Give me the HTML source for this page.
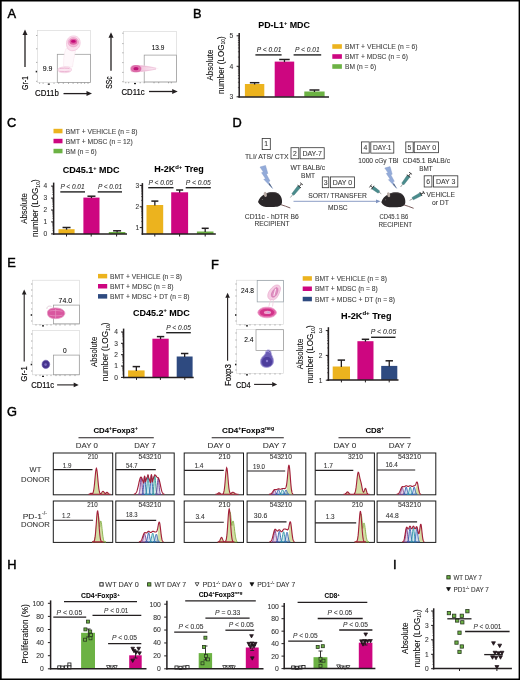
<!DOCTYPE html>
<html><head><meta charset="utf-8"><style>
html,body{margin:0;padding:0;background:#fff;width:520px;height:680px;overflow:hidden}
svg{display:block;font-family:"Liberation Sans", sans-serif;filter:blur(0.35px)}
text:not([stroke]){stroke:#333;stroke-width:0.08px}
svg.bd{position:absolute;left:0;top:0;filter:none}
body{position:relative}
</style></head><body>
<svg width="520" height="680" viewBox="0 0 520 680">
<rect x="0" y="0" width="520" height="680" fill="#fff"/>
<text x="7.5" y="17.7" font-size="12.8" stroke="#000" stroke-width="0.45" fill="#000">A</text>
<rect x="37.3" y="30.3" width="53.1" height="52.3" fill="none" stroke="#d4d4d4" stroke-width="0.6" />
<rect x="57.3" y="54.3" width="33.1" height="28.3" fill="none" stroke="#9a9a9a" stroke-width="0.75" />
<line x1="36" y1="35.5" x2="37.3" y2="35.5" stroke="#777" stroke-width="0.6" />
<line x1="36" y1="48.8" x2="37.3" y2="48.8" stroke="#777" stroke-width="0.6" />
<line x1="36" y1="62.4" x2="37.3" y2="62.4" stroke="#777" stroke-width="0.6" />
<line x1="36" y1="81.3" x2="37.3" y2="81.3" stroke="#777" stroke-width="0.6" />
<line x1="39.6" y1="82.6" x2="39.6" y2="83.9" stroke="#777" stroke-width="0.6" />
<line x1="43.1" y1="82.6" x2="43.1" y2="83.9" stroke="#777" stroke-width="0.6" />
<line x1="54" y1="82.6" x2="54" y2="83.9" stroke="#777" stroke-width="0.6" />
<line x1="58.7" y1="82.6" x2="58.7" y2="83.9" stroke="#777" stroke-width="0.6" />
<line x1="63.3" y1="82.6" x2="63.3" y2="83.9" stroke="#777" stroke-width="0.6" />
<line x1="68.5" y1="82.6" x2="68.5" y2="83.9" stroke="#777" stroke-width="0.6" />
<line x1="73.1" y1="82.6" x2="73.1" y2="83.9" stroke="#777" stroke-width="0.6" />
<line x1="77.7" y1="82.6" x2="77.7" y2="83.9" stroke="#777" stroke-width="0.6" />
<line x1="81.2" y1="82.6" x2="81.2" y2="83.9" stroke="#777" stroke-width="0.6" />
<line x1="84.6" y1="82.6" x2="84.6" y2="83.9" stroke="#777" stroke-width="0.6" />
<line x1="88" y1="82.6" x2="88" y2="83.9" stroke="#777" stroke-width="0.6" />
<rect x="35.7" y="70.8" width="1.4" height="1.6" fill="#222" />
<rect x="47.8" y="83.5" width="2" height="1.3" fill="#222" />
<text x="42.8" y="70.5" font-size="7" textLength="9.7" lengthAdjust="spacingAndGlyphs" >9.9</text>
<line x1="25" y1="34.5" x2="25" y2="67" stroke="#231f20" stroke-width="1.3" />
<path d="M25,29.5 L22.5,35 L27.5,35 Z" fill="#231f20" />
<text transform="translate(28.4,90) rotate(-90)" font-size="9.4" textLength="14" lengthAdjust="spacingAndGlyphs" stroke="#231f20" stroke-width="0.2">Gr-1</text>
<text x="35" y="96.3" font-size="9.6" textLength="23.8" lengthAdjust="spacingAndGlyphs" stroke="#231f20" stroke-width="0.2">CD11b</text>
<line x1="63.5" y1="93.6" x2="87" y2="93.6" stroke="#231f20" stroke-width="1.3" />
<path d="M92,93.6 L86.5,91.1 L86.5,96.1 Z" fill="#231f20" />
<path d="M66,48.5 C64.2,53 63.5,58 63.6,66.5 L72.5,67 C73.2,61 74.5,55.5 75.5,50.5 Z" fill="#fef8fb" stroke="#f6e0eb" stroke-width="0.5" />
<path d="M66.5,44.5 C66,39 69.5,35.9 73.5,35.9 C77.8,35.9 80.4,39 80.2,43 C80,47 77.5,50.2 73,50.7 C69,51 66.8,48.5 66.5,44.5 Z" fill="#fbe0ee" stroke="#eebad5" stroke-width="0.6" />
<ellipse cx="73.3" cy="42.2" rx="5.3" ry="4.7" fill="#f3b8d6" stroke="#e592bf" stroke-width="0.5"/>
<ellipse cx="73.4" cy="41.7" rx="3.9" ry="3.0" fill="#df64a6"/>
<ellipse cx="73.4" cy="41.4" rx="2.4" ry="1.3" fill="#c40a78"/>
<path d="M57.9,69.8 C58,67.5 62,66.9 66.5,66.9 C70,66.9 71.6,68.3 71.5,69.9 C71.4,71.6 68.5,72.7 64.5,72.7 C60.5,72.7 57.9,71.8 57.9,69.8 Z" fill="#fbe5f0" stroke="#efc0d9" stroke-width="0.6" />
<path d="M59.5,68.6 C62.5,68.1 66.5,68.1 69.5,68.6 M59.5,71.3 C62.5,71.7 66.5,71.7 69.5,71.2" fill="none" stroke="#e7a3c8" stroke-width="0.7" />
<rect x="123.5" y="31.5" width="53" height="50.5" fill="none" stroke="#d4d4d4" stroke-width="0.6" />
<rect x="144.2" y="55.1" width="32.3" height="26.9" fill="none" stroke="#9a9a9a" stroke-width="0.75" />
<line x1="122.2" y1="33.2" x2="123.5" y2="33.2" stroke="#777" stroke-width="0.6" />
<line x1="122.2" y1="43.6" x2="123.5" y2="43.6" stroke="#777" stroke-width="0.6" />
<line x1="122.2" y1="52.8" x2="123.5" y2="52.8" stroke="#777" stroke-width="0.6" />
<line x1="122.2" y1="62.6" x2="123.5" y2="62.6" stroke="#777" stroke-width="0.6" />
<line x1="122.2" y1="72.4" x2="123.5" y2="72.4" stroke="#777" stroke-width="0.6" />
<line x1="122.2" y1="81.7" x2="123.5" y2="81.7" stroke="#777" stroke-width="0.6" />
<line x1="125.8" y1="82" x2="125.8" y2="83.3" stroke="#777" stroke-width="0.6" />
<line x1="128.7" y1="82" x2="128.7" y2="83.3" stroke="#777" stroke-width="0.6" />
<line x1="140.2" y1="82" x2="140.2" y2="83.3" stroke="#777" stroke-width="0.6" />
<line x1="144.2" y1="82" x2="144.2" y2="83.3" stroke="#777" stroke-width="0.6" />
<line x1="154" y1="82" x2="154" y2="83.3" stroke="#777" stroke-width="0.6" />
<line x1="158.7" y1="82" x2="158.7" y2="83.3" stroke="#777" stroke-width="0.6" />
<line x1="168.5" y1="82" x2="168.5" y2="83.3" stroke="#777" stroke-width="0.6" />
<line x1="171.3" y1="82" x2="171.3" y2="83.3" stroke="#777" stroke-width="0.6" />
<rect x="134" y="82.9" width="2" height="1.3" fill="#222" />
<text x="151.7" y="49.9" font-size="6.9" textLength="12.7" lengthAdjust="spacingAndGlyphs" >13.9</text>
<line x1="111" y1="37.3" x2="111" y2="70.8" stroke="#231f20" stroke-width="1.3" />
<path d="M111,32.3 L108.5,37.8 L113.5,37.8 Z" fill="#231f20" />
<text transform="translate(112.2,88.8) rotate(-90)" font-size="9.4" textLength="12.5" lengthAdjust="spacingAndGlyphs" stroke="#231f20" stroke-width="0.2">SSc</text>
<text x="121.5" y="94.8" font-size="9.6" textLength="23.1" lengthAdjust="spacingAndGlyphs" stroke="#231f20" stroke-width="0.2">CD11c</text>
<line x1="149" y1="91.5" x2="172.7" y2="91.5" stroke="#231f20" stroke-width="1.3" />
<path d="M177.7,91.5 L172.2,89 L172.2,94 Z" fill="#231f20" />
<defs><linearGradient id="cg" x1="0" x2="1" y1="0" y2="0"><stop offset="0" stop-color="#eaa9cc"/><stop offset="0.6" stop-color="#f6d8e8"/><stop offset="1" stop-color="#fef7fa"/></linearGradient></defs>
<path d="M133,65.2 C141,64.6 151,66.2 159.2,68.6 C151,71 141,72.6 133,72.3 C129.3,71.9 129.2,65.6 133,65.2 Z" fill="url(#cg)" />
<path d="M137,66.3 C144,66 150,67 156,68.3 M137,71 C144,71.1 150,70.2 156,69.2" fill="none" stroke="#eab3d1" stroke-width="0.6" />
<ellipse cx="136.2" cy="68.7" rx="4.8" ry="3.2" fill="#df6fab" stroke="#d0559a" stroke-width="0.5"/>
<ellipse cx="136.0" cy="68.7" rx="2.6" ry="1.6" fill="#be1276"/>
<text x="192.9" y="17.7" font-size="12.8" stroke="#000" stroke-width="0.45" fill="#000">B</text>
<text x="258.3" y="27.8" font-size="8.9" font-weight="bold" textLength="51.6" lengthAdjust="spacingAndGlyphs" >PD-L1<tspan font-size="5.6" dy="-3.3">+</tspan><tspan dy="3.3"> MDC</tspan></text>
<line x1="239.2" y1="33" x2="239.2" y2="97.55" stroke="#231f20" stroke-width="1.5" />
<line x1="236.6" y1="35.8" x2="239.2" y2="35.8" stroke="#231f20" stroke-width="1" />
<text x="231.3" y="38.25" font-size="6.8" text-anchor="middle" fill="#333" >5</text>
<line x1="236.6" y1="66.3" x2="239.2" y2="66.3" stroke="#231f20" stroke-width="1" />
<text x="231.3" y="68.75" font-size="6.8" text-anchor="middle" fill="#333" >4</text>
<line x1="236.6" y1="96.8" x2="239.2" y2="96.8" stroke="#231f20" stroke-width="1" />
<text x="231.3" y="99.25" font-size="6.8" text-anchor="middle" fill="#333" >3</text>
<line x1="237.9" y1="57.12" x2="239.2" y2="57.12" stroke="#231f20" stroke-width="0.6" />
<line x1="237.9" y1="51.75" x2="239.2" y2="51.75" stroke="#231f20" stroke-width="0.6" />
<line x1="237.9" y1="47.94" x2="239.2" y2="47.94" stroke="#231f20" stroke-width="0.6" />
<line x1="237.9" y1="44.98" x2="239.2" y2="44.98" stroke="#231f20" stroke-width="0.6" />
<line x1="237.9" y1="42.57" x2="239.2" y2="42.57" stroke="#231f20" stroke-width="0.6" />
<line x1="237.9" y1="40.52" x2="239.2" y2="40.52" stroke="#231f20" stroke-width="0.6" />
<line x1="237.9" y1="38.76" x2="239.2" y2="38.76" stroke="#231f20" stroke-width="0.6" />
<line x1="237.9" y1="37.2" x2="239.2" y2="37.2" stroke="#231f20" stroke-width="0.6" />
<line x1="237.9" y1="87.62" x2="239.2" y2="87.62" stroke="#231f20" stroke-width="0.6" />
<line x1="237.9" y1="82.25" x2="239.2" y2="82.25" stroke="#231f20" stroke-width="0.6" />
<line x1="237.9" y1="78.44" x2="239.2" y2="78.44" stroke="#231f20" stroke-width="0.6" />
<line x1="237.9" y1="75.48" x2="239.2" y2="75.48" stroke="#231f20" stroke-width="0.6" />
<line x1="237.9" y1="73.07" x2="239.2" y2="73.07" stroke="#231f20" stroke-width="0.6" />
<line x1="237.9" y1="71.02" x2="239.2" y2="71.02" stroke="#231f20" stroke-width="0.6" />
<line x1="237.9" y1="69.26" x2="239.2" y2="69.26" stroke="#231f20" stroke-width="0.6" />
<line x1="237.9" y1="67.7" x2="239.2" y2="67.7" stroke="#231f20" stroke-width="0.6" />
<rect x="244.9" y="84" width="19.4" height="12.8" fill="#ecb31e" />
<line x1="254.6" y1="82.7" x2="254.6" y2="84.5" stroke="#231f20" stroke-width="1.3" />
<line x1="249.85" y1="82.7" x2="259.35" y2="82.7" stroke="#231f20" stroke-width="1.5" />
<rect x="274.7" y="61.6" width="19.5" height="35.2" fill="#cd0680" />
<line x1="284.45" y1="59.5" x2="284.45" y2="62.1" stroke="#231f20" stroke-width="1.3" />
<line x1="279.2" y1="59.5" x2="289.7" y2="59.5" stroke="#231f20" stroke-width="1.5" />
<rect x="304.3" y="91.5" width="20.3" height="5.3" fill="#6cb244" />
<line x1="314.45" y1="90" x2="314.45" y2="92" stroke="#231f20" stroke-width="1.3" />
<line x1="309.45" y1="90" x2="319.45" y2="90" stroke="#231f20" stroke-width="1.5" />
<line x1="255.4" y1="54.9" x2="281.6" y2="54.9" stroke="#222" stroke-width="1.4" />
<line x1="293.6" y1="54.9" x2="321.2" y2="54.9" stroke="#222" stroke-width="1.4" />
<text x="256.8" y="51.8" font-size="7" font-style="italic" textLength="24.5" lengthAdjust="spacingAndGlyphs" fill="#222" >P &lt; 0.01</text>
<text x="295" y="51.8" font-size="7" font-style="italic" textLength="24.7" lengthAdjust="spacingAndGlyphs" fill="#2a2a2a" >P &lt; 0.01</text>
<text transform="translate(213.3,80.5) rotate(-90)" font-size="8.6" textLength="30.9" lengthAdjust="spacingAndGlyphs" >Absolute</text>
<text transform="translate(223.6,93.9) rotate(-90)" font-size="8.6" textLength="57.7" lengthAdjust="spacingAndGlyphs" >number (LOG<tspan font-size="5.4" dy="1.6">10</tspan><tspan dy="-1.6">)</tspan></text>
<rect x="332.3" y="44.2" width="9.6" height="4.6" fill="#ecb31e" />
<text x="345" y="49" font-size="7" textLength="72.5" lengthAdjust="spacingAndGlyphs" fill="#444" >BMT + VEHICLE (n = 6)</text>
<rect x="332.3" y="54.2" width="9.6" height="4.6" fill="#cd0680" />
<text x="345" y="59" font-size="7" textLength="62.9" lengthAdjust="spacingAndGlyphs" fill="#444" >BMT + MDSC (n = 6)</text>
<rect x="332.3" y="64.2" width="9.6" height="4.6" fill="#6cb244" />
<text x="345" y="69" font-size="7" textLength="31.2" lengthAdjust="spacingAndGlyphs" fill="#444" >BM (n = 6)</text>
<text x="7.1" y="127.3" font-size="12.8" stroke="#000" stroke-width="0.45" fill="#000">C</text>
<rect x="53.5" y="128.8" width="9" height="4.5" fill="#ecb31e" />
<text x="65.8" y="133.5" font-size="7" textLength="71.7" lengthAdjust="spacingAndGlyphs" fill="#444" >BMT + VEHICLE (n = 8)</text>
<rect x="53.5" y="138.8" width="9" height="4.5" fill="#cd0680" />
<text x="65.8" y="143.5" font-size="7" textLength="66.9" lengthAdjust="spacingAndGlyphs" fill="#444" >BMT + MDSC (n = 12)</text>
<rect x="53.5" y="148.8" width="9" height="4.5" fill="#6cb244" />
<text x="65.8" y="153.5" font-size="7" textLength="30.9" lengthAdjust="spacingAndGlyphs" fill="#444" >BM (n = 6)</text>
<text x="62.8" y="172.8" font-size="9.2" font-weight="bold" textLength="56.8" lengthAdjust="spacingAndGlyphs" >CD45.1<tspan font-size="5.6" dy="-3.3">+</tspan><tspan dy="3.3"> MDC</tspan></text>
<line x1="53.65" y1="182.6" x2="53.65" y2="234.75" stroke="#231f20" stroke-width="1.5" />
<line x1="51.05" y1="186.1" x2="53.65" y2="186.1" stroke="#231f20" stroke-width="1" />
<text x="45.3" y="188.48" font-size="6.6" text-anchor="middle" fill="#333" >4</text>
<line x1="51.05" y1="198.1" x2="53.65" y2="198.1" stroke="#231f20" stroke-width="1" />
<text x="45.3" y="200.48" font-size="6.6" text-anchor="middle" fill="#333" >3</text>
<line x1="51.05" y1="210" x2="53.65" y2="210" stroke="#231f20" stroke-width="1" />
<text x="45.3" y="212.38" font-size="6.6" text-anchor="middle" fill="#333" >2</text>
<line x1="51.05" y1="221.9" x2="53.65" y2="221.9" stroke="#231f20" stroke-width="1" />
<text x="45.3" y="224.28" font-size="6.6" text-anchor="middle" fill="#333" >1</text>
<line x1="51.05" y1="233.9" x2="53.65" y2="233.9" stroke="#231f20" stroke-width="1" />
<text x="45.3" y="236.28" font-size="6.6" text-anchor="middle" fill="#333" >0</text>
<line x1="52.35" y1="194.49" x2="53.65" y2="194.49" stroke="#231f20" stroke-width="0.6" />
<line x1="52.35" y1="192.37" x2="53.65" y2="192.37" stroke="#231f20" stroke-width="0.6" />
<line x1="52.35" y1="190.88" x2="53.65" y2="190.88" stroke="#231f20" stroke-width="0.6" />
<line x1="52.35" y1="189.71" x2="53.65" y2="189.71" stroke="#231f20" stroke-width="0.6" />
<line x1="52.35" y1="188.76" x2="53.65" y2="188.76" stroke="#231f20" stroke-width="0.6" />
<line x1="52.35" y1="187.96" x2="53.65" y2="187.96" stroke="#231f20" stroke-width="0.6" />
<line x1="52.35" y1="187.26" x2="53.65" y2="187.26" stroke="#231f20" stroke-width="0.6" />
<line x1="52.35" y1="186.65" x2="53.65" y2="186.65" stroke="#231f20" stroke-width="0.6" />
<line x1="52.35" y1="206.42" x2="53.65" y2="206.42" stroke="#231f20" stroke-width="0.6" />
<line x1="52.35" y1="204.32" x2="53.65" y2="204.32" stroke="#231f20" stroke-width="0.6" />
<line x1="52.35" y1="202.84" x2="53.65" y2="202.84" stroke="#231f20" stroke-width="0.6" />
<line x1="52.35" y1="201.68" x2="53.65" y2="201.68" stroke="#231f20" stroke-width="0.6" />
<line x1="52.35" y1="200.74" x2="53.65" y2="200.74" stroke="#231f20" stroke-width="0.6" />
<line x1="52.35" y1="199.94" x2="53.65" y2="199.94" stroke="#231f20" stroke-width="0.6" />
<line x1="52.35" y1="199.25" x2="53.65" y2="199.25" stroke="#231f20" stroke-width="0.6" />
<line x1="52.35" y1="198.64" x2="53.65" y2="198.64" stroke="#231f20" stroke-width="0.6" />
<line x1="52.35" y1="218.32" x2="53.65" y2="218.32" stroke="#231f20" stroke-width="0.6" />
<line x1="52.35" y1="216.22" x2="53.65" y2="216.22" stroke="#231f20" stroke-width="0.6" />
<line x1="52.35" y1="214.74" x2="53.65" y2="214.74" stroke="#231f20" stroke-width="0.6" />
<line x1="52.35" y1="213.58" x2="53.65" y2="213.58" stroke="#231f20" stroke-width="0.6" />
<line x1="52.35" y1="212.64" x2="53.65" y2="212.64" stroke="#231f20" stroke-width="0.6" />
<line x1="52.35" y1="211.84" x2="53.65" y2="211.84" stroke="#231f20" stroke-width="0.6" />
<line x1="52.35" y1="211.15" x2="53.65" y2="211.15" stroke="#231f20" stroke-width="0.6" />
<line x1="52.35" y1="210.54" x2="53.65" y2="210.54" stroke="#231f20" stroke-width="0.6" />
<line x1="52.35" y1="230.29" x2="53.65" y2="230.29" stroke="#231f20" stroke-width="0.6" />
<line x1="52.35" y1="228.17" x2="53.65" y2="228.17" stroke="#231f20" stroke-width="0.6" />
<line x1="52.35" y1="226.68" x2="53.65" y2="226.68" stroke="#231f20" stroke-width="0.6" />
<line x1="52.35" y1="225.51" x2="53.65" y2="225.51" stroke="#231f20" stroke-width="0.6" />
<line x1="52.35" y1="224.56" x2="53.65" y2="224.56" stroke="#231f20" stroke-width="0.6" />
<line x1="52.35" y1="223.76" x2="53.65" y2="223.76" stroke="#231f20" stroke-width="0.6" />
<line x1="52.35" y1="223.06" x2="53.65" y2="223.06" stroke="#231f20" stroke-width="0.6" />
<line x1="52.35" y1="222.45" x2="53.65" y2="222.45" stroke="#231f20" stroke-width="0.6" />
<line x1="66.5" y1="234" x2="66.5" y2="236.5" stroke="#231f20" stroke-width="1" />
<line x1="91.2" y1="234" x2="91.2" y2="236.5" stroke="#231f20" stroke-width="1" />
<line x1="116.6" y1="234" x2="116.6" y2="236.5" stroke="#231f20" stroke-width="1" />
<rect x="58.5" y="229.2" width="16.1" height="4.8" fill="#ecb31e" />
<line x1="66.55" y1="227.5" x2="66.55" y2="229.7" stroke="#231f20" stroke-width="1.3" />
<line x1="62.55" y1="227.5" x2="70.55" y2="227.5" stroke="#231f20" stroke-width="1.5" />
<rect x="83.4" y="197.6" width="16.1" height="36.4" fill="#cd0680" />
<line x1="91.45" y1="196.2" x2="91.45" y2="198.1" stroke="#231f20" stroke-width="1.3" />
<line x1="87.45" y1="196.2" x2="95.45" y2="196.2" stroke="#231f20" stroke-width="1.5" />
<rect x="108.8" y="232" width="16.6" height="2" fill="#6cb244" />
<line x1="117.1" y1="230.8" x2="117.1" y2="232.5" stroke="#231f20" stroke-width="1.3" />
<line x1="113.1" y1="230.8" x2="121.1" y2="230.8" stroke="#231f20" stroke-width="1.5" />
<line x1="60.3" y1="191.9" x2="85" y2="191.9" stroke="#222" stroke-width="1.4" />
<line x1="97.7" y1="191.9" x2="122" y2="191.9" stroke="#222" stroke-width="1.4" />
<text x="60.4" y="188.9" font-size="7" font-style="italic" textLength="24.2" lengthAdjust="spacingAndGlyphs" fill="#2a2a2a" >P &lt; 0.01</text>
<text x="97.9" y="188.8" font-size="7" font-style="italic" textLength="24.1" lengthAdjust="spacingAndGlyphs" fill="#2a2a2a" >P &lt; 0.01</text>
<text transform="translate(27.4,223.8) rotate(-90)" font-size="8.6" textLength="30.6" lengthAdjust="spacingAndGlyphs" >Absolute</text>
<text transform="translate(38.4,237.1) rotate(-90)" font-size="8.6" textLength="57.8" lengthAdjust="spacingAndGlyphs" >number (LOG<tspan font-size="5.4" dy="1.6">10</tspan><tspan dy="-1.6">)</tspan></text>
<text x="154.2" y="172.4" font-size="8.9" font-weight="bold" textLength="49.6" lengthAdjust="spacingAndGlyphs" >H-2K<tspan font-size="5.8" dy="-3.4">d+</tspan><tspan dy="3.4"> Treg</tspan></text>
<line x1="142.4" y1="183.1" x2="142.4" y2="234.75" stroke="#231f20" stroke-width="1.5" />
<line x1="139.8" y1="185.4" x2="142.4" y2="185.4" stroke="#231f20" stroke-width="1" />
<text x="137.3" y="187.78" font-size="6.6" text-anchor="middle" fill="#333" >3</text>
<line x1="139.8" y1="206.8" x2="142.4" y2="206.8" stroke="#231f20" stroke-width="1" />
<text x="137.3" y="209.18" font-size="6.6" text-anchor="middle" fill="#333" >2</text>
<line x1="139.8" y1="227.6" x2="142.4" y2="227.6" stroke="#231f20" stroke-width="1" />
<text x="137.3" y="229.98" font-size="6.6" text-anchor="middle" fill="#333" >1</text>
<line x1="141.1" y1="200.36" x2="142.4" y2="200.36" stroke="#231f20" stroke-width="0.6" />
<line x1="141.1" y1="196.59" x2="142.4" y2="196.59" stroke="#231f20" stroke-width="0.6" />
<line x1="141.1" y1="193.92" x2="142.4" y2="193.92" stroke="#231f20" stroke-width="0.6" />
<line x1="141.1" y1="191.84" x2="142.4" y2="191.84" stroke="#231f20" stroke-width="0.6" />
<line x1="141.1" y1="190.15" x2="142.4" y2="190.15" stroke="#231f20" stroke-width="0.6" />
<line x1="141.1" y1="188.71" x2="142.4" y2="188.71" stroke="#231f20" stroke-width="0.6" />
<line x1="141.1" y1="187.47" x2="142.4" y2="187.47" stroke="#231f20" stroke-width="0.6" />
<line x1="141.1" y1="186.38" x2="142.4" y2="186.38" stroke="#231f20" stroke-width="0.6" />
<line x1="141.1" y1="221.34" x2="142.4" y2="221.34" stroke="#231f20" stroke-width="0.6" />
<line x1="141.1" y1="217.68" x2="142.4" y2="217.68" stroke="#231f20" stroke-width="0.6" />
<line x1="141.1" y1="215.08" x2="142.4" y2="215.08" stroke="#231f20" stroke-width="0.6" />
<line x1="141.1" y1="213.06" x2="142.4" y2="213.06" stroke="#231f20" stroke-width="0.6" />
<line x1="141.1" y1="211.41" x2="142.4" y2="211.41" stroke="#231f20" stroke-width="0.6" />
<line x1="141.1" y1="210.02" x2="142.4" y2="210.02" stroke="#231f20" stroke-width="0.6" />
<line x1="141.1" y1="208.82" x2="142.4" y2="208.82" stroke="#231f20" stroke-width="0.6" />
<line x1="141.1" y1="207.75" x2="142.4" y2="207.75" stroke="#231f20" stroke-width="0.6" />
<line x1="154.8" y1="234" x2="154.8" y2="236.5" stroke="#231f20" stroke-width="1" />
<line x1="179.6" y1="234" x2="179.6" y2="236.5" stroke="#231f20" stroke-width="1" />
<line x1="205.2" y1="234" x2="205.2" y2="236.5" stroke="#231f20" stroke-width="1" />
<rect x="146.5" y="205" width="16.7" height="29" fill="#ecb31e" />
<line x1="154.85" y1="201.1" x2="154.85" y2="205.5" stroke="#231f20" stroke-width="1.3" />
<line x1="151.35" y1="201.1" x2="158.35" y2="201.1" stroke="#231f20" stroke-width="1.5" />
<rect x="171.2" y="192.3" width="16.9" height="41.7" fill="#cd0680" />
<line x1="179.65" y1="190" x2="179.65" y2="192.8" stroke="#231f20" stroke-width="1.3" />
<line x1="176.15" y1="190" x2="183.15" y2="190" stroke="#231f20" stroke-width="1.5" />
<rect x="196.9" y="231.5" width="16.6" height="2.5" fill="#6cb244" />
<line x1="205.2" y1="228.3" x2="205.2" y2="232" stroke="#231f20" stroke-width="1.3" />
<line x1="201.7" y1="228.3" x2="208.7" y2="228.3" stroke="#231f20" stroke-width="1.5" />
<line x1="148.2" y1="187.7" x2="173.5" y2="187.7" stroke="#222" stroke-width="1.4" />
<line x1="185.7" y1="187.7" x2="210.8" y2="187.7" stroke="#222" stroke-width="1.4" />
<text x="148.5" y="184.6" font-size="7" font-style="italic" textLength="24.6" lengthAdjust="spacingAndGlyphs" fill="#2a2a2a" >P &lt; 0.05</text>
<text x="185.8" y="184.6" font-size="7" font-style="italic" textLength="25" lengthAdjust="spacingAndGlyphs" fill="#2a2a2a" >P &lt; 0.05</text>
<text x="232.5" y="126.7" font-size="12.8" stroke="#000" stroke-width="0.45" fill="#000">D</text>
<rect x="262.2" y="138.5" width="8.1" height="11.1" fill="#fff" stroke="#333" stroke-width="0.8" />
<text x="266.25" y="146.4" font-size="6.8" text-anchor="middle" fill="#3a3a3a" >1</text>
<text x="244.9" y="158.8" font-size="6.6" textLength="43.7" lengthAdjust="spacingAndGlyphs" fill="#3a3a3a" >TLI/ ATS/ CTX</text>
<rect x="291" y="147.7" width="7.8" height="11.1" fill="#fff" stroke="#333" stroke-width="0.8" />
<text x="294.9" y="155.6" font-size="6.8" text-anchor="middle" fill="#3a3a3a" >2</text>
<rect x="300.1" y="147.7" width="24.1" height="11.1" fill="#fff" stroke="#333" stroke-width="0.8" />
<text x="312.15" y="155.6" font-size="6.8" text-anchor="middle" textLength="19.5" lengthAdjust="spacingAndGlyphs" fill="#3a3a3a" >DAY-7</text>
<text x="290.5" y="169.8" font-size="6.6" textLength="34.6" lengthAdjust="spacingAndGlyphs" fill="#3a3a3a" >WT BALB/c</text>
<text x="301" y="178" font-size="6.6" textLength="14" lengthAdjust="spacingAndGlyphs" fill="#3a3a3a" >BMT</text>
<rect x="322.3" y="176.9" width="6.5" height="10.8" fill="#fff" stroke="#333" stroke-width="0.8" />
<text x="325.55" y="184.65" font-size="6.8" text-anchor="middle" fill="#3a3a3a" >3</text>
<rect x="330.4" y="176.9" width="24" height="10.8" fill="#fff" stroke="#333" stroke-width="0.8" />
<text x="342.4" y="184.65" font-size="6.8" text-anchor="middle" textLength="19.5" lengthAdjust="spacingAndGlyphs" fill="#3a3a3a" >DAY 0</text>
<text x="308.3" y="197.6" font-size="6.6" textLength="58.6" lengthAdjust="spacingAndGlyphs" fill="#3a3a3a" >SORT/ TRANSFER</text>
<text x="328" y="210.2" font-size="6.6" textLength="19.7" lengthAdjust="spacingAndGlyphs" fill="#3a3a3a" >MDSC</text>
<line x1="293.5" y1="201.3" x2="377" y2="201.3" stroke="#7f93bf" stroke-width="0.9" />
<path d="M380.6,201.3 L376,199.4 L376,203.2 Z" fill="#7f93bf" />
<text x="244.8" y="218.7" font-size="6.6" textLength="53.9" lengthAdjust="spacingAndGlyphs" fill="#3a3a3a" >CD11c - hDTR B6</text>
<text x="254.4" y="226.3" font-size="6.6" textLength="35.2" lengthAdjust="spacingAndGlyphs" fill="#3a3a3a" >RECIPIENT</text>
<rect x="361.5" y="141.9" width="7.7" height="11.2" fill="#fff" stroke="#333" stroke-width="0.8" />
<text x="365.35" y="149.85" font-size="6.8" text-anchor="middle" fill="#3a3a3a" >4</text>
<rect x="370.8" y="141.9" width="23" height="11.2" fill="#fff" stroke="#333" stroke-width="0.8" />
<text x="382.3" y="149.85" font-size="6.8" text-anchor="middle" textLength="18.5" lengthAdjust="spacingAndGlyphs" fill="#3a3a3a" >DAY-1</text>
<text x="358.3" y="162.7" font-size="6.6" textLength="40.4" lengthAdjust="spacingAndGlyphs" fill="#3a3a3a" >1000 cGy TBI</text>
<rect x="405.8" y="141.9" width="7.4" height="10.8" fill="#fff" stroke="#333" stroke-width="0.8" />
<text x="409.5" y="149.65" font-size="6.8" text-anchor="middle" fill="#3a3a3a" >5</text>
<rect x="414.2" y="141.9" width="24.2" height="10.8" fill="#fff" stroke="#333" stroke-width="0.8" />
<text x="426.3" y="149.65" font-size="6.8" text-anchor="middle" textLength="19.5" lengthAdjust="spacingAndGlyphs" fill="#3a3a3a" >DAY 0</text>
<text x="402.7" y="163" font-size="6.6" textLength="47.4" lengthAdjust="spacingAndGlyphs" fill="#3a3a3a" >CD45.1 BALB/c</text>
<text x="419.3" y="170.7" font-size="6.6" textLength="13.4" lengthAdjust="spacingAndGlyphs" fill="#3a3a3a" >BMT</text>
<rect x="424.2" y="175.8" width="7.7" height="11.2" fill="#fff" stroke="#333" stroke-width="0.8" />
<text x="428.05" y="183.75" font-size="6.8" text-anchor="middle" fill="#3a3a3a" >6</text>
<rect x="433.5" y="175.8" width="24.3" height="11.2" fill="#fff" stroke="#333" stroke-width="0.8" />
<text x="445.65" y="183.75" font-size="6.8" text-anchor="middle" textLength="19.5" lengthAdjust="spacingAndGlyphs" fill="#3a3a3a" >DAY 3</text>
<text x="426.5" y="197.3" font-size="6.6" textLength="28.5" lengthAdjust="spacingAndGlyphs" fill="#3a3a3a" >VEHICLE</text>
<text x="431.9" y="205" font-size="6.6" textLength="16.9" lengthAdjust="spacingAndGlyphs" fill="#3a3a3a" >or DT</text>
<text x="379.4" y="219.2" font-size="6.6" textLength="28.9" lengthAdjust="spacingAndGlyphs" fill="#3a3a3a" >CD45.1 B6</text>
<text x="378.5" y="226.5" font-size="6.6" textLength="33.5" lengthAdjust="spacingAndGlyphs" fill="#3a3a3a" >RECIPIENT</text>
<g transform="translate(260,165.5) rotate(0) scale(1)"><path d="M0,1.5 L5.5,0 L7.8,8 L6.3,8.6 L10,15.5 L8.4,16.2 L12.6,23 L3.8,13.8 L5.6,13.2 L1.6,7.2 L3.4,6.6 Z" fill="#93abd9" stroke="#8197c6" stroke-width="0.45"/><path d="M9.5,17.5 L12.6,23 L8.8,19" fill="#55657f"/></g>
<g transform="translate(384.8,166.6) rotate(0) scale(0.95)"><path d="M0,1.5 L5.5,0 L7.8,8 L6.3,8.6 L10,15.5 L8.4,16.2 L12.6,23 L3.8,13.8 L5.6,13.2 L1.6,7.2 L3.4,6.6 Z" fill="#93abd9" stroke="#8197c6" stroke-width="0.45"/><path d="M9.5,17.5 L12.6,23 L8.8,19" fill="#55657f"/></g>
<g transform="translate(258,202) scale(1)"><path d="M22.5,2.5 C26,3.5 29,4.8 32.3,6" stroke="#6b4a4a" stroke-width="0.9" fill="none"/><path d="M0,0 C1,-3.5 3.5,-6.5 7,-8 C10,-9.8 14,-10.3 17.5,-9.5 C22,-8.5 24.5,-4.5 24,0.5 C23.6,3.5 21,4.8 16,5 L8,5 C4.5,4.6 1.5,2.8 0,0 Z" fill="#2b2729"/><path d="M9,-8.5 C13,-10 18,-10 21,-7.5" stroke="#4a4446" stroke-width="0.8" fill="none"/><ellipse cx="7.3" cy="-7.6" rx="1.5" ry="2.6" fill="#b9aca6" transform="rotate(-15 7.3 -7.6)"/><circle cx="4.3" cy="-2.6" r="0.5" fill="#777"/></g>
<g transform="translate(381.3,202.3) scale(1)"><path d="M22.5,2.5 C26,3.5 29,4.8 32.3,6" stroke="#6b4a4a" stroke-width="0.9" fill="none"/><path d="M0,0 C1,-3.5 3.5,-6.5 7,-8 C10,-9.8 14,-10.3 17.5,-9.5 C22,-8.5 24.5,-4.5 24,0.5 C23.6,3.5 21,4.8 16,5 L8,5 C4.5,4.6 1.5,2.8 0,0 Z" fill="#2b2729"/><path d="M9,-8.5 C13,-10 18,-10 21,-7.5" stroke="#4a4446" stroke-width="0.8" fill="none"/><ellipse cx="7.3" cy="-7.6" rx="1.5" ry="2.6" fill="#b9aca6" transform="rotate(-15 7.3 -7.6)"/><circle cx="4.3" cy="-2.6" r="0.5" fill="#777"/></g>
<g transform="translate(290.4,197.5) rotate(-50.98)"><line x1="0" y1="0" x2="4.41" y2="0" stroke="#555" stroke-width="0.5"/><path d="M3.88,-1.3 L14.11,-1.6 L14.11,1.6 L3.88,1.3 Z" fill="#4a8c8c" stroke="#2f6d70" stroke-width="0.4"/><line x1="14.11" y1="0" x2="17.63" y2="0" stroke="#333" stroke-width="0.9"/><line x1="14.11" y1="-2.2" x2="14.11" y2="2.2" stroke="#333" stroke-width="0.8"/><line x1="17.63" y1="-1.8" x2="17.63" y2="1.8" stroke="#333" stroke-width="0.8"/></g>
<g transform="translate(381.3,193.8) rotate(-144.16)"><line x1="0" y1="0" x2="3.33" y2="0" stroke="#555" stroke-width="0.5"/><path d="M2.93,-1.3 L10.66,-1.6 L10.66,1.6 L2.93,1.3 Z" fill="#4a8c8c" stroke="#2f6d70" stroke-width="0.4"/><line x1="10.66" y1="0" x2="13.32" y2="0" stroke="#333" stroke-width="0.9"/><line x1="10.66" y1="-2.2" x2="10.66" y2="2.2" stroke="#333" stroke-width="0.8"/><line x1="13.32" y1="-1.8" x2="13.32" y2="1.8" stroke="#333" stroke-width="0.8"/></g>
<g transform="translate(400.6,187) rotate(-53.87)"><line x1="0" y1="0" x2="4.24" y2="0" stroke="#555" stroke-width="0.5"/><path d="M3.73,-1.3 L13.57,-1.6 L13.57,1.6 L3.73,1.3 Z" fill="#4a8c8c" stroke="#2f6d70" stroke-width="0.4"/><line x1="13.57" y1="0" x2="16.96" y2="0" stroke="#333" stroke-width="0.9"/><line x1="13.57" y1="-2.2" x2="13.57" y2="2.2" stroke="#333" stroke-width="0.8"/><line x1="16.96" y1="-1.8" x2="16.96" y2="1.8" stroke="#333" stroke-width="0.8"/></g>
<g transform="translate(409.6,200.4) rotate(-29.09)"><line x1="0" y1="0" x2="4.06" y2="0" stroke="#555" stroke-width="0.5"/><path d="M3.57,-1.3 L13,-1.6 L13,1.6 L3.57,1.3 Z" fill="#4a8c8c" stroke="#2f6d70" stroke-width="0.4"/><line x1="13" y1="0" x2="16.25" y2="0" stroke="#333" stroke-width="0.9"/><line x1="13" y1="-2.2" x2="13" y2="2.2" stroke="#333" stroke-width="0.8"/><line x1="16.25" y1="-1.8" x2="16.25" y2="1.8" stroke="#333" stroke-width="0.8"/></g>
<text x="7.3" y="266.9" font-size="12.8" stroke="#000" stroke-width="0.45" fill="#000">E</text>
<rect x="32.3" y="280.2" width="47.3" height="44.1" fill="none" stroke="#d4d4d4" stroke-width="0.6" />
<rect x="53.4" y="305.1" width="26" height="18.7" fill="none" stroke="#9a9a9a" stroke-width="0.75" />
<line x1="31" y1="284" x2="32.3" y2="284" stroke="#777" stroke-width="0.6" />
<line x1="31" y1="290" x2="32.3" y2="290" stroke="#777" stroke-width="0.6" />
<line x1="31" y1="296" x2="32.3" y2="296" stroke="#777" stroke-width="0.6" />
<line x1="31" y1="303" x2="32.3" y2="303" stroke="#777" stroke-width="0.6" />
<line x1="31" y1="309" x2="32.3" y2="309" stroke="#777" stroke-width="0.6" />
<line x1="31" y1="321" x2="32.3" y2="321" stroke="#777" stroke-width="0.6" />
<line x1="36" y1="324.3" x2="36" y2="325.6" stroke="#777" stroke-width="0.6" />
<line x1="40" y1="324.3" x2="40" y2="325.6" stroke="#777" stroke-width="0.6" />
<line x1="47" y1="324.3" x2="47" y2="325.6" stroke="#777" stroke-width="0.6" />
<line x1="51" y1="324.3" x2="51" y2="325.6" stroke="#777" stroke-width="0.6" />
<line x1="56" y1="324.3" x2="56" y2="325.6" stroke="#777" stroke-width="0.6" />
<line x1="60" y1="324.3" x2="60" y2="325.6" stroke="#777" stroke-width="0.6" />
<line x1="65" y1="324.3" x2="65" y2="325.6" stroke="#777" stroke-width="0.6" />
<line x1="70" y1="324.3" x2="70" y2="325.6" stroke="#777" stroke-width="0.6" />
<line x1="75" y1="324.3" x2="75" y2="325.6" stroke="#777" stroke-width="0.6" />
<rect x="30.7" y="314.2" width="1.4" height="1.6" fill="#222" />
<rect x="42" y="325.2" width="2" height="1.3" fill="#222" />
<text x="58.6" y="302.8" font-size="6.6" textLength="13.5" lengthAdjust="spacingAndGlyphs" >74.0</text>
<path d="M47,309 C46.5,306.5 49,305.5 51.5,306.5" fill="none" stroke="#d8c0cc" stroke-width="0.7" />
<path d="M47.5,313.5 C47,309.5 51,307.8 56,308 C61.5,308.2 65,310.5 64.8,313.5 C64.6,316.5 60.5,318.6 55.5,318.6 C50.5,318.6 47.8,316.8 47.5,313.5 Z" fill="#d9579f" stroke="#e393c0" stroke-width="0.8" />
<path d="M49.5,311 C53,310.2 58,310.3 62.5,311.3 M49.5,315.2 C53,316 58,316.1 62.5,315.2" fill="none" stroke="#ea9ec8" stroke-width="0.6" />
<line x1="55.6" y1="309" x2="55.6" y2="318" stroke="#ea9ec8" stroke-width="0.6" />
<rect x="32.3" y="330.4" width="47.3" height="44.4" fill="none" stroke="#d4d4d4" stroke-width="0.6" />
<rect x="53.4" y="355.1" width="25.9" height="19.7" fill="none" stroke="#9a9a9a" stroke-width="0.75" />
<line x1="31" y1="334" x2="32.3" y2="334" stroke="#777" stroke-width="0.6" />
<line x1="31" y1="341" x2="32.3" y2="341" stroke="#777" stroke-width="0.6" />
<line x1="31" y1="348" x2="32.3" y2="348" stroke="#777" stroke-width="0.6" />
<line x1="31" y1="355" x2="32.3" y2="355" stroke="#777" stroke-width="0.6" />
<line x1="31" y1="362" x2="32.3" y2="362" stroke="#777" stroke-width="0.6" />
<line x1="31" y1="371" x2="32.3" y2="371" stroke="#777" stroke-width="0.6" />
<line x1="36" y1="374.8" x2="36" y2="376.1" stroke="#777" stroke-width="0.6" />
<line x1="40" y1="374.8" x2="40" y2="376.1" stroke="#777" stroke-width="0.6" />
<line x1="47" y1="374.8" x2="47" y2="376.1" stroke="#777" stroke-width="0.6" />
<line x1="51" y1="374.8" x2="51" y2="376.1" stroke="#777" stroke-width="0.6" />
<line x1="56" y1="374.8" x2="56" y2="376.1" stroke="#777" stroke-width="0.6" />
<line x1="60" y1="374.8" x2="60" y2="376.1" stroke="#777" stroke-width="0.6" />
<line x1="65" y1="374.8" x2="65" y2="376.1" stroke="#777" stroke-width="0.6" />
<line x1="70" y1="374.8" x2="70" y2="376.1" stroke="#777" stroke-width="0.6" />
<line x1="75" y1="374.8" x2="75" y2="376.1" stroke="#777" stroke-width="0.6" />
<rect x="30.7" y="363.7" width="1.4" height="1.6" fill="#222" />
<rect x="42" y="375.7" width="2" height="1.3" fill="#222" />
<text x="64.8" y="352.8" font-size="6.6" text-anchor="middle" >0</text>
<path d="M42,364.5 C42,361.5 44,360.2 45.8,360.2 C48,360.2 49.8,362 49.7,364.5 C49.6,367 47.8,368.4 45.8,368.4 C43.6,368.4 42,367 42,364.5 Z" fill="#46338c" stroke="#6b5bb0" stroke-width="0.6" />
<ellipse cx="45.6" cy="364.6" rx="1.3" ry="1.3" fill="#7a6ac0"/>
<line x1="24.2" y1="294.1" x2="24.2" y2="361.5" stroke="#231f20" stroke-width="1.1" />
<path d="M24.2,289.6 L21.9,294.6 L26.5,294.6 Z" fill="#231f20" />
<text transform="translate(27.3,381.4) rotate(-90)" font-size="9.4" textLength="15" lengthAdjust="spacingAndGlyphs" stroke="#231f20" stroke-width="0.2">Gr-1</text>
<text x="31.2" y="387.6" font-size="9.6" textLength="22.8" lengthAdjust="spacingAndGlyphs" stroke="#231f20" stroke-width="0.2">CD11c</text>
<line x1="57.1" y1="384.9" x2="74.2" y2="384.9" stroke="#231f20" stroke-width="1.1" />
<path d="M78.7,384.9 L73.7,382.6 L73.7,387.2 Z" fill="#231f20" />
<rect x="98" y="273.9" width="9.2" height="4.5" fill="#ecb31e" />
<text x="110" y="278.6" font-size="7" textLength="72" lengthAdjust="spacingAndGlyphs" fill="#444" >BMT + VEHICLE (n = 8)</text>
<rect x="98" y="284" width="9.2" height="4.5" fill="#cd0680" />
<text x="110" y="288.7" font-size="7" textLength="63.5" lengthAdjust="spacingAndGlyphs" fill="#444" >BMT + MDSC (n = 8)</text>
<rect x="98" y="294.1" width="9.2" height="4.5" fill="#2e4a80" />
<text x="110" y="298.8" font-size="7" textLength="79.6" lengthAdjust="spacingAndGlyphs" fill="#444" >BMT + MDSC + DT (n = 8)</text>
<text x="133" y="315.7" font-size="8.9" font-weight="bold" textLength="56.9" lengthAdjust="spacingAndGlyphs" >CD45.2<tspan font-size="5.6" dy="-3.3">+</tspan><tspan dy="3.3"> MDC</tspan></text>
<line x1="123.6" y1="328.6" x2="123.6" y2="378.15" stroke="#231f20" stroke-width="1.5" />
<line x1="121" y1="332" x2="123.6" y2="332" stroke="#231f20" stroke-width="1" />
<text x="116" y="334.38" font-size="6.6" text-anchor="middle" fill="#333" >4</text>
<line x1="121" y1="343.3" x2="123.6" y2="343.3" stroke="#231f20" stroke-width="1" />
<text x="116" y="345.68" font-size="6.6" text-anchor="middle" fill="#333" >3</text>
<line x1="121" y1="354.7" x2="123.6" y2="354.7" stroke="#231f20" stroke-width="1" />
<text x="116" y="357.08" font-size="6.6" text-anchor="middle" fill="#333" >2</text>
<line x1="121" y1="366" x2="123.6" y2="366" stroke="#231f20" stroke-width="1" />
<text x="116" y="368.38" font-size="6.6" text-anchor="middle" fill="#333" >1</text>
<line x1="121" y1="377.4" x2="123.6" y2="377.4" stroke="#231f20" stroke-width="1" />
<text x="116" y="379.78" font-size="6.6" text-anchor="middle" fill="#333" >0</text>
<line x1="122.3" y1="339.9" x2="123.6" y2="339.9" stroke="#231f20" stroke-width="0.6" />
<line x1="122.3" y1="337.91" x2="123.6" y2="337.91" stroke="#231f20" stroke-width="0.6" />
<line x1="122.3" y1="336.5" x2="123.6" y2="336.5" stroke="#231f20" stroke-width="0.6" />
<line x1="122.3" y1="335.4" x2="123.6" y2="335.4" stroke="#231f20" stroke-width="0.6" />
<line x1="122.3" y1="334.51" x2="123.6" y2="334.51" stroke="#231f20" stroke-width="0.6" />
<line x1="122.3" y1="333.75" x2="123.6" y2="333.75" stroke="#231f20" stroke-width="0.6" />
<line x1="122.3" y1="333.1" x2="123.6" y2="333.1" stroke="#231f20" stroke-width="0.6" />
<line x1="122.3" y1="332.52" x2="123.6" y2="332.52" stroke="#231f20" stroke-width="0.6" />
<line x1="122.3" y1="351.27" x2="123.6" y2="351.27" stroke="#231f20" stroke-width="0.6" />
<line x1="122.3" y1="349.26" x2="123.6" y2="349.26" stroke="#231f20" stroke-width="0.6" />
<line x1="122.3" y1="347.84" x2="123.6" y2="347.84" stroke="#231f20" stroke-width="0.6" />
<line x1="122.3" y1="346.73" x2="123.6" y2="346.73" stroke="#231f20" stroke-width="0.6" />
<line x1="122.3" y1="345.83" x2="123.6" y2="345.83" stroke="#231f20" stroke-width="0.6" />
<line x1="122.3" y1="345.07" x2="123.6" y2="345.07" stroke="#231f20" stroke-width="0.6" />
<line x1="122.3" y1="344.4" x2="123.6" y2="344.4" stroke="#231f20" stroke-width="0.6" />
<line x1="122.3" y1="343.82" x2="123.6" y2="343.82" stroke="#231f20" stroke-width="0.6" />
<line x1="122.3" y1="362.6" x2="123.6" y2="362.6" stroke="#231f20" stroke-width="0.6" />
<line x1="122.3" y1="360.61" x2="123.6" y2="360.61" stroke="#231f20" stroke-width="0.6" />
<line x1="122.3" y1="359.2" x2="123.6" y2="359.2" stroke="#231f20" stroke-width="0.6" />
<line x1="122.3" y1="358.1" x2="123.6" y2="358.1" stroke="#231f20" stroke-width="0.6" />
<line x1="122.3" y1="357.21" x2="123.6" y2="357.21" stroke="#231f20" stroke-width="0.6" />
<line x1="122.3" y1="356.45" x2="123.6" y2="356.45" stroke="#231f20" stroke-width="0.6" />
<line x1="122.3" y1="355.8" x2="123.6" y2="355.8" stroke="#231f20" stroke-width="0.6" />
<line x1="122.3" y1="355.22" x2="123.6" y2="355.22" stroke="#231f20" stroke-width="0.6" />
<line x1="122.3" y1="373.97" x2="123.6" y2="373.97" stroke="#231f20" stroke-width="0.6" />
<line x1="122.3" y1="371.96" x2="123.6" y2="371.96" stroke="#231f20" stroke-width="0.6" />
<line x1="122.3" y1="370.54" x2="123.6" y2="370.54" stroke="#231f20" stroke-width="0.6" />
<line x1="122.3" y1="369.43" x2="123.6" y2="369.43" stroke="#231f20" stroke-width="0.6" />
<line x1="122.3" y1="368.53" x2="123.6" y2="368.53" stroke="#231f20" stroke-width="0.6" />
<line x1="122.3" y1="367.77" x2="123.6" y2="367.77" stroke="#231f20" stroke-width="0.6" />
<line x1="122.3" y1="367.1" x2="123.6" y2="367.1" stroke="#231f20" stroke-width="0.6" />
<line x1="122.3" y1="366.52" x2="123.6" y2="366.52" stroke="#231f20" stroke-width="0.6" />
<line x1="136.5" y1="377.4" x2="136.5" y2="379.9" stroke="#231f20" stroke-width="1" />
<line x1="160.4" y1="377.4" x2="160.4" y2="379.9" stroke="#231f20" stroke-width="1" />
<line x1="184.8" y1="377.4" x2="184.8" y2="379.9" stroke="#231f20" stroke-width="1" />
<rect x="128.1" y="370.4" width="16.5" height="7" fill="#ecb31e" />
<line x1="136.35" y1="366.6" x2="136.35" y2="370.9" stroke="#231f20" stroke-width="1.3" />
<line x1="132.65" y1="366.6" x2="140.05" y2="366.6" stroke="#231f20" stroke-width="1.5" />
<rect x="152.4" y="338.7" width="16.3" height="38.7" fill="#cd0680" />
<line x1="160.55" y1="336.6" x2="160.55" y2="339.2" stroke="#231f20" stroke-width="1.3" />
<line x1="156.85" y1="336.6" x2="164.25" y2="336.6" stroke="#231f20" stroke-width="1.5" />
<rect x="176.7" y="356.5" width="15.9" height="20.9" fill="#2e4a80" />
<line x1="184.65" y1="353.5" x2="184.65" y2="357" stroke="#231f20" stroke-width="1.3" />
<line x1="180.95" y1="353.5" x2="188.35" y2="353.5" stroke="#231f20" stroke-width="1.5" />
<line x1="166.2" y1="332.7" x2="190.8" y2="332.7" stroke="#222" stroke-width="1.4" />
<text x="166.3" y="330" font-size="7" font-style="italic" textLength="24.5" lengthAdjust="spacingAndGlyphs" fill="#2a2a2a" >P &lt; 0.05</text>
<text transform="translate(97.3,366.9) rotate(-90)" font-size="8.6" textLength="30.2" lengthAdjust="spacingAndGlyphs" >Absolute</text>
<text transform="translate(108.2,381.2) rotate(-90)" font-size="8.6" textLength="58.8" lengthAdjust="spacingAndGlyphs" >number (LOG<tspan font-size="5.4" dy="1.6">10</tspan><tspan dy="-1.6">)</tspan></text>
<text x="210.9" y="269" font-size="12.8" stroke="#000" stroke-width="0.45" fill="#000">F</text>
<rect x="236.6" y="280.2" width="47" height="44.1" fill="none" stroke="#d4d4d4" stroke-width="0.6" />
<rect x="257.2" y="280.4" width="26.4" height="21.5" fill="none" stroke="#9aa4aa" stroke-width="0.75" />
<line x1="235.3" y1="284" x2="236.6" y2="284" stroke="#777" stroke-width="0.6" />
<line x1="235.3" y1="290" x2="236.6" y2="290" stroke="#777" stroke-width="0.6" />
<line x1="235.3" y1="296" x2="236.6" y2="296" stroke="#777" stroke-width="0.6" />
<line x1="235.3" y1="303" x2="236.6" y2="303" stroke="#777" stroke-width="0.6" />
<line x1="235.3" y1="309" x2="236.6" y2="309" stroke="#777" stroke-width="0.6" />
<line x1="235.3" y1="321" x2="236.6" y2="321" stroke="#777" stroke-width="0.6" />
<line x1="240" y1="324.3" x2="240" y2="325.6" stroke="#777" stroke-width="0.6" />
<line x1="245" y1="324.3" x2="245" y2="325.6" stroke="#777" stroke-width="0.6" />
<line x1="250" y1="324.3" x2="250" y2="325.6" stroke="#777" stroke-width="0.6" />
<line x1="255" y1="324.3" x2="255" y2="325.6" stroke="#777" stroke-width="0.6" />
<line x1="260" y1="324.3" x2="260" y2="325.6" stroke="#777" stroke-width="0.6" />
<line x1="265" y1="324.3" x2="265" y2="325.6" stroke="#777" stroke-width="0.6" />
<line x1="270" y1="324.3" x2="270" y2="325.6" stroke="#777" stroke-width="0.6" />
<line x1="275" y1="324.3" x2="275" y2="325.6" stroke="#777" stroke-width="0.6" />
<line x1="280" y1="324.3" x2="280" y2="325.6" stroke="#777" stroke-width="0.6" />
<rect x="235" y="314.2" width="1.4" height="1.6" fill="#222" />
<rect x="246" y="325.2" width="2" height="1.3" fill="#222" />
<text x="241.1" y="292.8" font-size="6.6" textLength="12.8" lengthAdjust="spacingAndGlyphs" >24.8</text>
<path d="M277.5,285 C279.8,285.2 280.8,287 280.4,289.5 C279.8,292.5 278.3,295.5 276.8,297.8 C275.2,299.6 272.5,300.2 270.2,299.6 C268,298.8 267.4,296.5 268,294 C268.8,291 271,288.5 273.2,286.6 C274.5,285.5 276,284.9 277.5,285 Z" fill="#f5cde3" stroke="#e8a9cd" stroke-width="0.7" />
<path d="M271.5,293.5 C272.5,290.5 274.8,288 277,287.5 C278.8,288.5 278,292 276.5,294.8 C275.2,297 273,297.8 271.8,296.8 C271.2,296 271.2,294.5 271.5,293.5 Z" fill="#de8fc0" stroke="#cf6fab" stroke-width="0.6" />
<path d="M275.6,288.8 L273.8,295.8" fill="none" stroke="#fbe6f2" stroke-width="1.1" />
<path d="M270.5,300 L268.8,306.5 M273.5,299.8 L272.5,306.5" fill="none" stroke="#f0c8de" stroke-width="0.7" />
<path d="M257.9,312.3 C258.2,309.3 262,307.2 267,307.2 C272,307.2 275.8,309.3 276.4,312.3 C276.4,315.5 272.5,317.7 267,317.7 C261.5,317.7 257.9,315.5 257.9,312.3 Z" fill="#e36aab" stroke="#ec9fcb" stroke-width="0.8" />
<path d="M259.8,312.4 C260,310.2 263,308.8 267,308.8 C271,308.8 274,310.3 274.4,312.4 C274.2,314.6 271,316.1 267,316.1 C263,316.1 259.8,314.6 259.8,312.4 Z" fill="#d2338a" />
<ellipse cx="267.5" cy="312.4" rx="3.6" ry="1.7" fill="#f0a2cc"/>
<ellipse cx="268.5" cy="312.3" rx="1.3" ry="0.9" fill="#c4a6dc"/>
<rect x="236.6" y="329.4" width="47" height="43.9" fill="none" stroke="#d4d4d4" stroke-width="0.6" />
<rect x="256" y="329.7" width="27.6" height="20.7" fill="none" stroke="#9a9a9a" stroke-width="0.75" />
<line x1="235.3" y1="333" x2="236.6" y2="333" stroke="#777" stroke-width="0.6" />
<line x1="235.3" y1="340" x2="236.6" y2="340" stroke="#777" stroke-width="0.6" />
<line x1="235.3" y1="347" x2="236.6" y2="347" stroke="#777" stroke-width="0.6" />
<line x1="235.3" y1="354" x2="236.6" y2="354" stroke="#777" stroke-width="0.6" />
<line x1="235.3" y1="361" x2="236.6" y2="361" stroke="#777" stroke-width="0.6" />
<line x1="235.3" y1="370" x2="236.6" y2="370" stroke="#777" stroke-width="0.6" />
<line x1="240" y1="373.3" x2="240" y2="374.6" stroke="#777" stroke-width="0.6" />
<line x1="245" y1="373.3" x2="245" y2="374.6" stroke="#777" stroke-width="0.6" />
<line x1="250" y1="373.3" x2="250" y2="374.6" stroke="#777" stroke-width="0.6" />
<line x1="255" y1="373.3" x2="255" y2="374.6" stroke="#777" stroke-width="0.6" />
<line x1="260" y1="373.3" x2="260" y2="374.6" stroke="#777" stroke-width="0.6" />
<line x1="265" y1="373.3" x2="265" y2="374.6" stroke="#777" stroke-width="0.6" />
<line x1="270" y1="373.3" x2="270" y2="374.6" stroke="#777" stroke-width="0.6" />
<line x1="275" y1="373.3" x2="275" y2="374.6" stroke="#777" stroke-width="0.6" />
<line x1="280" y1="373.3" x2="280" y2="374.6" stroke="#777" stroke-width="0.6" />
<rect x="235" y="363.7" width="1.4" height="1.6" fill="#222" />
<rect x="246" y="374.2" width="2" height="1.3" fill="#222" />
<text x="244.2" y="341.8" font-size="6.6" textLength="9.3" lengthAdjust="spacingAndGlyphs" >2.4</text>
<path d="M267.5,350 C269.5,349.6 271,350.6 271,352.5 C271.2,355 273.5,357.5 273.5,361 C273.5,365 270.5,367.4 266.5,367.4 C262.5,367.4 260.5,365 260.5,361.5 C260.5,358.5 262.5,356.5 264.5,355 C265.8,353.5 265.5,350.4 267.5,350 Z" fill="#6a5cb4" stroke="#a89fd8" stroke-width="0.8" />
<path d="M262,362 C262,358.5 264.5,357 267,357 C270,357 272,359 272,362 C272,365 269.5,366.5 267,366.5 C264,366.5 262,365 262,362 Z" fill="#4d3d9c" />
<ellipse cx="267" cy="361" rx="1.2" ry="1.2" fill="#8a7cd0"/>
<path d="M265.5,352 C266.5,351 268.5,351 269.5,352.5" fill="none" stroke="#c0b8e6" stroke-width="0.8" />
<line x1="227.6" y1="297.2" x2="227.6" y2="360.7" stroke="#231f20" stroke-width="1.1" />
<path d="M227.6,292.7 L225.3,297.7 L229.9,297.7 Z" fill="#231f20" />
<text transform="translate(230.7,386.1) rotate(-90)" font-size="9.4" textLength="22" lengthAdjust="spacingAndGlyphs" stroke="#231f20" stroke-width="0.2">Foxp3</text>
<text x="236" y="387.6" font-size="9.6" textLength="14.7" lengthAdjust="spacingAndGlyphs" stroke="#231f20" stroke-width="0.2">CD4</text>
<line x1="254.1" y1="384.4" x2="272.7" y2="384.4" stroke="#231f20" stroke-width="1.1" />
<path d="M277.2,384.4 L272.2,382.1 L272.2,386.7 Z" fill="#231f20" />
<rect x="302.7" y="276.2" width="9.2" height="4.5" fill="#ecb31e" />
<text x="314.9" y="280.9" font-size="7" textLength="72" lengthAdjust="spacingAndGlyphs" fill="#444" >BMT + VEHICLE (n = 8)</text>
<rect x="302.7" y="286.5" width="9.2" height="4.5" fill="#cd0680" />
<text x="314.9" y="291.2" font-size="7" textLength="62.8" lengthAdjust="spacingAndGlyphs" fill="#444" >BMT + MDSC (n = 8)</text>
<rect x="302.7" y="296.8" width="9.2" height="4.5" fill="#2e4a80" />
<text x="314.9" y="301.5" font-size="7" textLength="80.1" lengthAdjust="spacingAndGlyphs" fill="#444" >BMT + MDSC + DT (n = 8)</text>
<text x="341.1" y="318.5" font-size="8.7" font-weight="bold" textLength="50.4" lengthAdjust="spacingAndGlyphs" >H-2K<tspan font-size="5.8" dy="-3.4">d+</tspan><tspan dy="3.4"> Treg</tspan></text>
<line x1="328.4" y1="327.2" x2="328.4" y2="380.95" stroke="#231f20" stroke-width="1.5" />
<line x1="325.8" y1="330.6" x2="328.4" y2="330.6" stroke="#231f20" stroke-width="1" />
<text x="320.6" y="332.98" font-size="6.6" text-anchor="middle" fill="#333" >3</text>
<line x1="325.8" y1="355.4" x2="328.4" y2="355.4" stroke="#231f20" stroke-width="1" />
<text x="320.6" y="357.78" font-size="6.6" text-anchor="middle" fill="#333" >2</text>
<line x1="325.8" y1="380.2" x2="328.4" y2="380.2" stroke="#231f20" stroke-width="1" />
<text x="320.6" y="382.58" font-size="6.6" text-anchor="middle" fill="#333" >1</text>
<line x1="327.1" y1="347.93" x2="328.4" y2="347.93" stroke="#231f20" stroke-width="0.6" />
<line x1="327.1" y1="343.57" x2="328.4" y2="343.57" stroke="#231f20" stroke-width="0.6" />
<line x1="327.1" y1="340.47" x2="328.4" y2="340.47" stroke="#231f20" stroke-width="0.6" />
<line x1="327.1" y1="338.07" x2="328.4" y2="338.07" stroke="#231f20" stroke-width="0.6" />
<line x1="327.1" y1="336.1" x2="328.4" y2="336.1" stroke="#231f20" stroke-width="0.6" />
<line x1="327.1" y1="334.44" x2="328.4" y2="334.44" stroke="#231f20" stroke-width="0.6" />
<line x1="327.1" y1="333" x2="328.4" y2="333" stroke="#231f20" stroke-width="0.6" />
<line x1="327.1" y1="331.73" x2="328.4" y2="331.73" stroke="#231f20" stroke-width="0.6" />
<line x1="327.1" y1="372.73" x2="328.4" y2="372.73" stroke="#231f20" stroke-width="0.6" />
<line x1="327.1" y1="368.37" x2="328.4" y2="368.37" stroke="#231f20" stroke-width="0.6" />
<line x1="327.1" y1="365.27" x2="328.4" y2="365.27" stroke="#231f20" stroke-width="0.6" />
<line x1="327.1" y1="362.87" x2="328.4" y2="362.87" stroke="#231f20" stroke-width="0.6" />
<line x1="327.1" y1="360.9" x2="328.4" y2="360.9" stroke="#231f20" stroke-width="0.6" />
<line x1="327.1" y1="359.24" x2="328.4" y2="359.24" stroke="#231f20" stroke-width="0.6" />
<line x1="327.1" y1="357.8" x2="328.4" y2="357.8" stroke="#231f20" stroke-width="0.6" />
<line x1="327.1" y1="356.53" x2="328.4" y2="356.53" stroke="#231f20" stroke-width="0.6" />
<line x1="341.4" y1="379.9" x2="341.4" y2="382.4" stroke="#231f20" stroke-width="1" />
<line x1="365.4" y1="379.9" x2="365.4" y2="382.4" stroke="#231f20" stroke-width="1" />
<line x1="389.2" y1="379.9" x2="389.2" y2="382.4" stroke="#231f20" stroke-width="1" />
<rect x="332.7" y="366.5" width="17.3" height="13.4" fill="#ecb31e" />
<line x1="341.35" y1="360.1" x2="341.35" y2="367" stroke="#231f20" stroke-width="1.3" />
<line x1="337.65" y1="360.1" x2="345.05" y2="360.1" stroke="#231f20" stroke-width="1.5" />
<rect x="357.4" y="341.2" width="16.1" height="38.7" fill="#cd0680" />
<line x1="365.45" y1="339.3" x2="365.45" y2="341.7" stroke="#231f20" stroke-width="1.3" />
<line x1="361.75" y1="339.3" x2="369.15" y2="339.3" stroke="#231f20" stroke-width="1.5" />
<rect x="381.2" y="365.9" width="16.1" height="14" fill="#2e4a80" />
<line x1="389.25" y1="360.8" x2="389.25" y2="366.4" stroke="#231f20" stroke-width="1.3" />
<line x1="385.55" y1="360.8" x2="392.95" y2="360.8" stroke="#231f20" stroke-width="1.5" />
<line x1="371.1" y1="337.3" x2="395.5" y2="337.3" stroke="#222" stroke-width="1.4" />
<text x="370.8" y="333.9" font-size="7" font-style="italic" textLength="25.4" lengthAdjust="spacingAndGlyphs" fill="#2a2a2a" >P &lt; 0.05</text>
<text transform="translate(302.7,369.3) rotate(-90)" font-size="8.6" textLength="30.6" lengthAdjust="spacingAndGlyphs" >Absolute</text>
<text transform="translate(313.2,383.2) rotate(-90)" font-size="8.6" textLength="57.9" lengthAdjust="spacingAndGlyphs" >number (LOG<tspan font-size="5.4" dy="1.6">10</tspan><tspan dy="-1.6">)</tspan></text>
<text x="7.1" y="416.4" font-size="12.8" stroke="#000" stroke-width="0.45" fill="#000">G</text>
<text x="93.4" y="432.7" font-size="7.6" font-weight="bold" textLength="44.4" lengthAdjust="spacingAndGlyphs" >CD4<tspan font-size="4.8" dy="-2.8">+</tspan><tspan dy="2.8">Foxp3</tspan><tspan font-size="4.8" dy="-2.8">+</tspan></text>
<line x1="78.5" y1="437.7" x2="153.8" y2="437.7" stroke="#231f20" stroke-width="1.1" />
<text x="222.1" y="433" font-size="7.6" font-weight="bold" textLength="51.9" lengthAdjust="spacingAndGlyphs" >CD4<tspan font-size="4.8" dy="-2.8">+</tspan><tspan dy="2.8">Foxp3</tspan><tspan font-size="4.8" dy="-2.8">neg</tspan></text>
<line x1="211.7" y1="437.7" x2="283.8" y2="437.7" stroke="#231f20" stroke-width="1.1" />
<text x="365.4" y="432.6" font-size="7.6" font-weight="bold" textLength="18.6" lengthAdjust="spacingAndGlyphs" >CD8<tspan font-size="4.8" dy="-2.8">+</tspan></text>
<line x1="338.5" y1="437.7" x2="410.4" y2="437.7" stroke="#231f20" stroke-width="1.1" />
<text x="75.8" y="448" font-size="8" textLength="22.1" lengthAdjust="spacingAndGlyphs" fill="#333" >DAY 0</text>
<text x="134.2" y="448" font-size="8" textLength="21.6" lengthAdjust="spacingAndGlyphs" fill="#333" >DAY 7</text>
<text x="207.5" y="448" font-size="8" textLength="22.9" lengthAdjust="spacingAndGlyphs" fill="#333" >DAY 0</text>
<text x="262.7" y="448" font-size="8" textLength="23.5" lengthAdjust="spacingAndGlyphs" fill="#333" >DAY 7</text>
<text x="333.5" y="448" font-size="8" textLength="22.7" lengthAdjust="spacingAndGlyphs" fill="#333" >DAY 0</text>
<text x="388.8" y="448" font-size="8" textLength="22.5" lengthAdjust="spacingAndGlyphs" fill="#333" >DAY 7</text>
<text x="35.4" y="471.8" font-size="7.7" text-anchor="middle" textLength="11.6" lengthAdjust="spacingAndGlyphs" fill="#333" >WT</text>
<text x="21.1" y="481.5" font-size="7.7" textLength="28.6" lengthAdjust="spacingAndGlyphs" fill="#333" >DONOR</text>
<text x="22.7" y="518.5" font-size="7.7" textLength="24.2" lengthAdjust="spacingAndGlyphs" fill="#333" >PD-1<tspan font-size="4.6" dy="-3.2">-/-</tspan></text>
<text x="21.1" y="527.2" font-size="7.7" textLength="28.6" lengthAdjust="spacingAndGlyphs" fill="#333" >DONOR</text>
<rect x="53.3" y="453" width="59.4" height="41.8" fill="none" stroke="#1a1a1a" stroke-width="1" />
<rect x="53.3" y="501" width="59.4" height="41.4" fill="none" stroke="#1a1a1a" stroke-width="1" />
<rect x="115.8" y="453" width="58.4" height="41.8" fill="none" stroke="#1a1a1a" stroke-width="1" />
<rect x="115.8" y="501" width="58.4" height="41.4" fill="none" stroke="#1a1a1a" stroke-width="1" />
<rect x="184.2" y="453" width="59.3" height="41.8" fill="none" stroke="#1a1a1a" stroke-width="1" />
<rect x="184.2" y="501" width="59.3" height="41.4" fill="none" stroke="#1a1a1a" stroke-width="1" />
<rect x="247.1" y="453" width="58.7" height="41.8" fill="none" stroke="#1a1a1a" stroke-width="1" />
<rect x="247.1" y="501" width="58.7" height="41.4" fill="none" stroke="#1a1a1a" stroke-width="1" />
<rect x="315.2" y="453" width="59.2" height="41.8" fill="none" stroke="#1a1a1a" stroke-width="1" />
<rect x="315.2" y="501" width="59.2" height="41.4" fill="none" stroke="#1a1a1a" stroke-width="1" />
<rect x="377.1" y="453" width="58.7" height="41.8" fill="none" stroke="#1a1a1a" stroke-width="1" />
<rect x="377.1" y="501" width="58.7" height="41.4" fill="none" stroke="#1a1a1a" stroke-width="1" />
<text x="87.7" y="458.7" font-size="6.4" textLength="10.4" lengthAdjust="spacingAndGlyphs" fill="#333" >210</text>
<text x="62.8" y="468" font-size="6.7" textLength="8.7" lengthAdjust="spacingAndGlyphs" fill="#333" >1.9</text>
<line x1="53.3" y1="469.6" x2="92.5" y2="469.6" stroke="#231f20" stroke-width="1.1" />
<text x="87.3" y="506.8" font-size="6.4" textLength="10.4" lengthAdjust="spacingAndGlyphs" fill="#333" >210</text>
<text x="61.9" y="518.2" font-size="6.7" textLength="8.6" lengthAdjust="spacingAndGlyphs" fill="#333" >1.2</text>
<line x1="53.3" y1="520.3" x2="93.1" y2="520.3" stroke="#231f20" stroke-width="1.1" />
<text x="138.5" y="458.5" font-size="6.4" textLength="22.7" lengthAdjust="spacingAndGlyphs" fill="#333" >543210</text>
<text x="126" y="468.1" font-size="6.7" textLength="11.5" lengthAdjust="spacingAndGlyphs" fill="#333" >54.7</text>
<line x1="115.8" y1="469.6" x2="155.8" y2="469.6" stroke="#231f20" stroke-width="1.1" />
<text x="138.5" y="506.5" font-size="6.4" textLength="22.7" lengthAdjust="spacingAndGlyphs" fill="#333" >543210</text>
<text x="126" y="517" font-size="6.7" textLength="11.5" lengthAdjust="spacingAndGlyphs" fill="#333" >18.3</text>
<line x1="115.8" y1="520.4" x2="156.2" y2="520.4" stroke="#231f20" stroke-width="1.1" />
<text x="218.5" y="458.5" font-size="6.4" textLength="11.9" lengthAdjust="spacingAndGlyphs" fill="#333" >210</text>
<text x="194.4" y="468.1" font-size="6.7" textLength="9.1" lengthAdjust="spacingAndGlyphs" fill="#333" >1.4</text>
<line x1="184.2" y1="470.4" x2="223.8" y2="470.4" stroke="#231f20" stroke-width="1.1" />
<text x="218.5" y="506.5" font-size="6.4" textLength="11.9" lengthAdjust="spacingAndGlyphs" fill="#333" >210</text>
<text x="195.4" y="519" font-size="6.7" textLength="9.2" lengthAdjust="spacingAndGlyphs" fill="#333" >3.4</text>
<line x1="184.2" y1="522.3" x2="223.8" y2="522.3" stroke="#231f20" stroke-width="1.1" />
<text x="269.8" y="458.5" font-size="6.4" textLength="22.1" lengthAdjust="spacingAndGlyphs" fill="#333" >543210</text>
<text x="253.1" y="469" font-size="6.7" textLength="11.9" lengthAdjust="spacingAndGlyphs" fill="#333" >19.0</text>
<line x1="247.1" y1="471" x2="285.2" y2="471" stroke="#231f20" stroke-width="1.1" />
<text x="269.8" y="506.5" font-size="6.4" textLength="22.1" lengthAdjust="spacingAndGlyphs" fill="#333" >543210</text>
<text x="253.8" y="518" font-size="6.7" textLength="13.5" lengthAdjust="spacingAndGlyphs" fill="#333" >30.6</text>
<line x1="247.1" y1="521.9" x2="286.5" y2="521.9" stroke="#231f20" stroke-width="1.1" />
<text x="348.1" y="458.5" font-size="6.4" textLength="14.8" lengthAdjust="spacingAndGlyphs" fill="#333" >3210</text>
<text x="323.8" y="468" font-size="6.7" textLength="9.2" lengthAdjust="spacingAndGlyphs" fill="#333" >1.7</text>
<line x1="315.2" y1="470.4" x2="353.3" y2="470.4" stroke="#231f20" stroke-width="1.1" />
<text x="351.9" y="506.5" font-size="6.4" textLength="11" lengthAdjust="spacingAndGlyphs" fill="#333" >210</text>
<text x="325.8" y="519" font-size="6.7" textLength="8.8" lengthAdjust="spacingAndGlyphs" fill="#333" >1.3</text>
<line x1="315.2" y1="522.9" x2="356.2" y2="522.9" stroke="#231f20" stroke-width="1.1" />
<text x="397.9" y="458.5" font-size="6.4" textLength="23.1" lengthAdjust="spacingAndGlyphs" fill="#333" >543210</text>
<text x="385.4" y="467.1" font-size="6.7" textLength="12.5" lengthAdjust="spacingAndGlyphs" fill="#333" >16.4</text>
<line x1="377.1" y1="470" x2="415.2" y2="470" stroke="#231f20" stroke-width="1.1" />
<text x="397.9" y="506.5" font-size="6.4" textLength="23.1" lengthAdjust="spacingAndGlyphs" fill="#333" >543210</text>
<text x="385.8" y="518" font-size="6.7" textLength="13" lengthAdjust="spacingAndGlyphs" fill="#333" >44.8</text>
<line x1="377.1" y1="521.9" x2="417.1" y2="521.9" stroke="#231f20" stroke-width="1.1" />
<path d="M89,494.3 L89,494.16 L89.35,494.04 L89.7,493.87 L90.05,493.66 L90.4,493.46 L90.75,493.32 L91.1,493.28 L91.45,493.35 L91.8,493.46 L92.15,493.52 L92.5,493.44 L92.85,493.08 L93.2,492.3 L93.55,490.99 L93.9,489.01 L94.25,486.3 L94.6,482.92 L94.95,479.09 L95.3,475.2 L95.65,471.78 L96,469.34 L96.35,468.32 L96.7,468.89 L97.05,470.96 L97.4,474.15 L97.75,477.97 L98.1,481.86 L98.45,485.4 L98.8,488.31 L99.15,490.51 L99.5,492.02 L99.85,492.96 L100.2,493.45 L100.55,493.61 L100.9,493.5 L101.25,493.2 L101.6,492.75 L101.95,492.24 L102.3,491.77 L102.65,491.42 L103,491.3 L103.35,491.42 L103.7,491.76 L104.05,492.23 L104.4,492.71 L104.75,493.11 L105.1,493.32 L105.45,493.33 L105.8,493.13 L106.15,492.81 L106.5,492.49 L106.85,492.3 L107.2,492.33 L107.55,492.58 L107.9,492.97 L108.25,493.38 L108.6,493.74 L108.95,494 L109.3,494.16 L109.65,494.24 L110,494.28 L110,494.3 Z" fill="#d3dea4" stroke="#a3203a" stroke-width="1.1" />
<path d="M92,541.9 L92,541.89 L92.23,541.88 L92.47,541.87 L92.7,541.85 L92.93,541.81 L93.17,541.74 L93.4,541.65 L93.63,541.5 L93.87,541.27 L94.1,540.95 L94.33,540.49 L94.57,539.86 L94.8,539.02 L95.03,537.94 L95.27,536.58 L95.5,534.92 L95.73,532.96 L95.97,530.73 L96.2,528.27 L96.43,525.67 L96.67,523.04 L96.9,520.5 L97.13,518.2 L97.37,516.29 L97.6,514.88 L97.83,514.07 L98.07,513.93 L98.3,514.45 L98.53,515.62 L98.77,517.33 L99,519.48 L99.23,521.93 L99.47,524.54 L99.7,527.17 L99.93,525.08 L100.17,523.25 L100.4,521.87 L100.63,521.07 L100.87,520.93 L101.1,521.45 L101.33,522.59 L101.57,524.25 L101.8,526.28 L102.03,528.51 L102.27,530.79 L102.5,532.97 L102.73,534.95 L102.97,536.66 L103.2,538.08 L103.43,539.2 L103.67,540.05 L103.9,540.68 L104.13,541.12 L104.37,541.41 L104.6,541.61 L104.83,541.73 L105.07,541.8 L105.3,541.85 L105.53,541.87 L105.77,541.89 L106,541.89 L106,541.9 Z" fill="#d3dea4" stroke="#86b04a" stroke-width="0.9" />
<path d="M92,541.9 L92,541.9 L92.18,541.89 L92.37,541.89 L92.55,541.88 L92.73,541.87 L92.92,541.85 L93.1,541.82 L93.28,541.77 L93.47,541.7 L93.65,541.59 L93.83,541.43 L94.02,541.21 L94.2,540.89 L94.38,540.45 L94.57,539.86 L94.75,539.1 L94.93,538.12 L95.12,536.9 L95.3,535.42 L95.48,533.66 L95.67,531.64 L95.85,529.37 L96.03,526.9 L96.22,524.3 L96.4,521.65 L96.58,519.07 L96.77,516.66 L96.95,514.54 L97.13,512.83 L97.32,511.63 L97.5,510.99 L97.68,510.96 L97.87,511.55 L98.05,512.7 L98.23,514.37 L98.42,516.45 L98.6,518.84 L98.78,521.41 L98.97,524.06 L99.15,526.67 L99.33,529.16 L99.52,531.44 L99.7,533.49 L99.88,535.27 L100.07,536.78 L100.25,538.02 L100.43,539.02 L100.62,539.8 L100.8,540.4 L100.98,540.85 L101.17,541.18 L101.35,541.42 L101.53,541.58 L101.72,541.69 L101.9,541.77 L102.08,541.82 L102.27,541.85 L102.45,541.87 L102.63,541.88 L102.82,541.89 L103,541.89 L103,541.9 Z" fill="#d3dea4" stroke="#a3203a" stroke-width="1.1" />
<path d="M138.48,494.3 L138.48,494.2 L138.71,494.08 L138.93,493.83 L139.16,493.37 L139.39,492.61 L139.61,491.41 L139.84,489.72 L140.07,487.52 L140.29,484.96 L140.52,482.33 L140.75,480 L140.97,478.39 L141.2,477.81 L141.43,478.39 L141.65,480 L141.88,482.33 L142.11,484.96 L142.33,487.52 L142.56,489.72 L142.79,491.41 L143.01,492.61 L143.24,493.37 L143.47,493.83 L143.69,494.08 L143.92,494.2 L143.92,494.3 Z" fill="#7a3b8f" stroke="#7a3b8f" stroke-width="0.9" fill-opacity="0.22"/>
<path d="M141.88,494.3 L141.88,494.2 L142.11,494.06 L142.33,493.8 L142.56,493.32 L142.79,492.51 L143.01,491.24 L143.24,489.45 L143.47,487.12 L143.69,484.41 L143.92,481.62 L144.15,479.15 L144.37,477.45 L144.6,476.84 L144.83,477.45 L145.05,479.15 L145.28,481.62 L145.51,484.41 L145.73,487.12 L145.96,489.45 L146.19,491.24 L146.41,492.51 L146.64,493.32 L146.87,493.8 L147.09,494.06 L147.32,494.2 L147.32,494.3 Z" fill="#2f5fae" stroke="#2f5fae" stroke-width="0.9" fill-opacity="0.22"/>
<path d="M145.28,494.3 L145.28,494.19 L145.51,494.04 L145.73,493.76 L145.96,493.24 L146.19,492.36 L146.41,490.99 L146.64,489.04 L146.87,486.52 L147.09,483.59 L147.32,480.56 L147.55,477.89 L147.77,476.05 L148,475.38 L148.23,476.05 L148.45,477.89 L148.68,480.56 L148.91,483.59 L149.13,486.52 L149.36,489.04 L149.59,490.99 L149.81,492.36 L150.04,493.24 L150.27,493.76 L150.49,494.04 L150.72,494.19 L150.72,494.3 Z" fill="#2a93a6" stroke="#2a93a6" stroke-width="0.9" fill-opacity="0.22"/>
<path d="M148.68,494.3 L148.68,494.19 L148.91,494.04 L149.13,493.76 L149.36,493.24 L149.59,492.36 L149.81,490.99 L150.04,489.04 L150.27,486.52 L150.49,483.59 L150.72,480.56 L150.95,477.89 L151.17,476.05 L151.4,475.38 L151.63,476.05 L151.85,477.89 L152.08,480.56 L152.31,483.59 L152.53,486.52 L152.76,489.04 L152.99,490.99 L153.21,492.36 L153.44,493.24 L153.67,493.76 L153.89,494.04 L154.12,494.19 L154.12,494.3 Z" fill="#3565b5" stroke="#3565b5" stroke-width="0.9" fill-opacity="0.22"/>
<path d="M152.08,494.3 L152.08,494.19 L152.31,494.04 L152.53,493.76 L152.76,493.24 L152.99,492.36 L153.21,490.99 L153.44,489.04 L153.67,486.52 L153.89,483.59 L154.12,480.56 L154.35,477.89 L154.57,476.05 L154.8,475.38 L155.03,476.05 L155.25,477.89 L155.48,480.56 L155.71,483.59 L155.93,486.52 L156.16,489.04 L156.39,490.99 L156.61,492.36 L156.84,493.24 L157.07,493.76 L157.29,494.04 L157.52,494.19 L157.52,494.3 Z" fill="#2f9a92" stroke="#2f9a92" stroke-width="0.9" fill-opacity="0.22"/>
<path d="M155.48,494.3 L155.48,494.2 L155.71,494.08 L155.93,493.84 L156.16,493.4 L156.39,492.66 L156.61,491.5 L156.84,489.85 L157.07,487.72 L157.29,485.24 L157.52,482.68 L157.75,480.42 L157.97,478.85 L158.2,478.3 L158.43,478.85 L158.65,480.42 L158.88,482.68 L159.11,485.24 L159.33,487.72 L159.56,489.85 L159.79,491.5 L160.01,492.66 L160.24,493.4 L160.47,493.84 L160.69,494.08 L160.92,494.2 L160.92,494.3 Z" fill="#6a3d96" stroke="#6a3d96" stroke-width="0.9" fill-opacity="0.22"/>
<path d="M133.86,494.2 L134.05,494.17 L134.24,494.13 L134.43,494.07 L134.62,494.01 L134.82,493.93 L135.01,493.83 L135.2,493.71 L135.39,493.56 L135.58,493.39 L135.77,493.18 L135.96,492.93 L136.15,492.64 L136.34,492.31 L136.54,491.92 L136.73,491.49 L136.92,491 L137.11,490.45 L137.3,489.84 L137.49,489.18 L137.68,488.46 L137.87,487.7 L138.06,486.89 L138.26,486.04 L138.45,485.17 L138.64,484.27 L138.83,483.38 L139.02,482.49 L139.21,481.62 L139.4,480.79 L139.59,480.02 L139.78,479.31 L139.98,478.68 L140.17,478.15 L140.36,477.71 L140.55,477.39 L140.74,477.19 L140.93,477.1 L141.12,477.13 L141.31,477.26 L141.5,477.52 L141.7,477.86 L141.89,478.29 L142.08,478.78 L142.27,479.32 L142.46,479.9 L142.65,480.49 L142.84,481.07 L143.03,481.64 L143.23,482.15 L143.42,482.62 L143.61,483 L143.8,482.41 L143.99,480.11 L144.18,478.14 L144.37,476.76 L144.56,476.16 L144.75,476.42 L144.95,477.52 L145.14,479.29 L145.33,481.49 L145.52,481.72 L145.71,481.16 L145.9,480.57 L146.09,479.96 L146.28,479.36 L146.47,478.78 L146.67,478.24 L146.86,477.75 L147.05,477.33 L147.24,477 L147.43,476.75 L147.62,476.47 L147.81,475.14 L148,474.69 L148.19,475.17 L148.39,476.53 L148.58,477.39 L148.77,477.83 L148.96,478.32 L149.15,478.87 L149.34,479.46 L149.53,480.07 L149.72,480.67 L149.91,481.26 L150.11,481.82 L150.3,482.33 L150.49,482.76 L150.68,480.4 L150.87,478.03 L151.06,476.13 L151.25,474.97 L151.44,474.71 L151.63,475.39 L151.83,476.91 L152.02,479.06 L152.21,481.56 L152.4,481.78 L152.59,481.18 L152.78,480.53 L152.97,479.85 L153.16,479.16 L153.35,478.48 L153.55,477.82 L153.74,477.2 L153.93,476.65 L154.12,476.16 L154.31,475.76 L154.5,475.46 L154.69,474.84 L154.88,474.78 L155.07,475.09 L155.27,475.14 L155.46,475.27 L155.65,475.45 L155.84,475.67 L156.03,475.93 L156.22,476.19 L156.41,476.45 L156.6,476.7 L156.8,476.92 L156.99,477.11 L157.18,477.28 L157.37,477.42 L157.56,477.54 L157.75,477.65 L157.94,477.78 L158.13,477.64 L158.32,477.76 L158.52,478.36 L158.71,478.67 L158.9,479.07 L159.09,479.56 L159.28,480.15 L159.47,480.82 L159.66,481.58 L159.85,482.4 L160.04,483.29 L160.24,484.21 L160.43,485.16 L160.62,486.11 L160.81,487.04 L161,487.95 L161.19,488.8 L161.38,489.59 L161.57,490.32 L161.76,490.98 L161.96,491.56 L162.15,492.07 L162.34,492.5 L162.53,492.87 L162.72,493.18 L162.91,493.43 L163.1,493.63 L163.29,493.79 L163.48,493.92 L163.68,494.02 L163.87,494.1 L164.06,494.15 L164.25,494.2 L164.44,494.23" fill="none" stroke="#a3203a" stroke-width="1.15" stroke-linejoin="round"/>
<path d="M155.5,541.9 L155.5,541.7 L155.82,541.49 L156.15,541.11 L156.47,540.47 L156.8,539.46 L157.12,538.01 L157.45,536.06 L157.78,533.66 L158.1,530.98 L158.43,528.31 L158.75,526.02 L159.08,524.45 L159.4,523.9 L159.72,524.45 L160.05,526.02 L160.38,528.31 L160.7,530.98 L161.03,533.66 L161.35,536.06 L161.68,538.01 L162,539.46 L162.33,540.47 L162.65,541.11 L162.98,541.49 L163.3,541.7 L163.3,541.9 Z" fill="#d3dea4" stroke="none" stroke-width="1" />
<path d="M141.3,541.9 L141.3,541.85 L141.57,541.79 L141.83,541.66 L142.1,541.44 L142.37,541.05 L142.63,540.46 L142.9,539.61 L143.17,538.51 L143.43,537.23 L143.7,535.91 L143.97,534.75 L144.23,533.94 L144.5,533.65 L144.77,533.94 L145.03,534.75 L145.3,535.91 L145.57,537.23 L145.83,538.51 L146.1,539.61 L146.37,540.46 L146.63,541.05 L146.9,541.44 L147.17,541.66 L147.43,541.79 L147.7,541.85 L147.7,541.9 Z" fill="#7a3b8f" stroke="#7a3b8f" stroke-width="0.9" fill-opacity="0.22"/>
<path d="M145.4,541.9 L145.4,541.84 L145.67,541.78 L145.93,541.64 L146.2,541.38 L146.47,540.95 L146.73,540.29 L147,539.34 L147.27,538.11 L147.53,536.68 L147.8,535.21 L148.07,533.91 L148.33,533.01 L148.6,532.68 L148.87,533.01 L149.13,533.91 L149.4,535.21 L149.67,536.68 L149.93,538.11 L150.2,539.34 L150.47,540.29 L150.73,540.95 L151,541.38 L151.27,541.64 L151.53,541.78 L151.8,541.84 L151.8,541.9 Z" fill="#2f5fae" stroke="#2f5fae" stroke-width="0.9" fill-opacity="0.22"/>
<path d="M149.5,541.9 L149.5,541.85 L149.77,541.78 L150.03,541.65 L150.3,541.41 L150.57,541 L150.83,540.37 L151.1,539.47 L151.37,538.31 L151.63,536.96 L151.9,535.56 L152.17,534.33 L152.43,533.47 L152.7,533.17 L152.97,533.47 L153.23,534.33 L153.5,535.56 L153.77,536.96 L154.03,538.31 L154.3,539.47 L154.57,540.37 L154.83,541 L155.1,541.41 L155.37,541.65 L155.63,541.78 L155.9,541.85 L155.9,541.9 Z" fill="#2a93a6" stroke="#2a93a6" stroke-width="0.9" fill-opacity="0.22"/>
<path d="M153.1,541.9 L153.1,541.85 L153.37,541.79 L153.63,541.68 L153.9,541.46 L154.17,541.1 L154.43,540.54 L154.7,539.74 L154.97,538.71 L155.23,537.51 L155.5,536.27 L155.77,535.17 L156.03,534.41 L156.3,534.14 L156.57,534.41 L156.83,535.17 L157.1,536.27 L157.37,537.51 L157.63,538.71 L157.9,539.74 L158.17,540.54 L158.43,541.1 L158.7,541.46 L158.97,541.68 L159.23,541.79 L159.5,541.85 L159.5,541.9 Z" fill="#3565b5" stroke="#3565b5" stroke-width="0.9" fill-opacity="0.22"/>
<path d="M138.9,541.85 L139.05,541.83 L139.21,541.81 L139.36,541.79 L139.52,541.75 L139.67,541.71 L139.82,541.66 L139.98,541.6 L140.13,541.52 L140.29,541.43 L140.44,541.32 L140.6,541.19 L140.75,541.04 L140.9,540.87 L141.06,540.67 L141.21,540.44 L141.37,540.19 L141.52,539.9 L141.67,539.59 L141.83,539.24 L141.98,538.87 L142.14,538.47 L142.29,538.05 L142.44,537.62 L142.6,537.16 L142.75,536.7 L142.91,536.23 L143.06,535.77 L143.22,535.32 L143.37,534.89 L143.52,534.48 L143.68,534.11 L143.83,533.77 L143.99,533.46 L144.14,533.21 L144.29,533 L144.45,532.83 L144.6,532.71 L144.76,532.64 L144.91,532.6 L145.06,532.6 L145.22,532.62 L145.37,532.66 L145.53,532.71 L145.68,532.76 L145.84,532.82 L145.99,532.85 L146.14,532.88 L146.3,532.88 L146.45,532.85 L146.61,532.79 L146.76,532.71 L146.91,532.61 L147.07,532.48 L147.22,532.33 L147.38,532.17 L147.53,532.01 L147.69,531.84 L147.84,531.69 L147.99,531.55 L148.15,531.44 L148.3,531.35 L148.46,531.3 L148.61,531.27 L148.76,531.29 L148.92,531.33 L149.07,531.41 L149.23,531.51 L149.38,531.63 L149.53,531.77 L149.69,531.91 L149.84,532.05 L150,532.19 L150.15,532.31 L150.31,532.4 L150.46,532.48 L150.61,532.52 L150.77,532.53 L150.92,532.51 L151.08,532.46 L151.23,532.38 L151.38,532.28 L151.54,532.16 L151.69,532.03 L151.85,531.89 L152,531.76 L152.15,531.63 L152.31,531.52 L152.46,531.43 L152.62,531.35 L152.77,531.31 L152.93,531.28 L153.08,531.28 L153.23,531.3 L153.39,531.34 L153.54,531.4 L153.7,531.46 L153.85,531.54 L154,531.61 L154.16,531.69 L154.31,531.76 L154.47,531.82 L154.62,531.88 L154.77,531.92 L154.93,531.95 L155.08,531.97 L155.24,531.99 L155.39,531.99 L155.55,531.98 L155.7,531.97 L155.85,531.94 L156.01,531.9 L156.16,531.84 L156.32,531.76 L156.47,531.63 L156.62,531.47 L156.78,531.24 L156.93,530.95 L157.09,530.58 L157.24,530.13 L157.4,529.6 L157.55,528.97 L157.7,528.27 L157.86,527.5 L158.01,526.68 L158.17,525.83 L158.32,524.99 L158.47,524.2 L158.63,523.48 L158.78,522.88 L158.94,522.42 L159.09,522.15 L159.24,522.08 L159.4,522.23 L159.55,522.6 L159.71,523.19 L159.86,523.99 L160.02,524.96 L160.17,526.1 L160.32,527.34 L160.48,528.67 L160.63,530.03 L160.79,531.4 L160.94,532.74 L161.09,534.01 L161.25,535.2 L161.4,536.29 L161.56,537.26 L161.71,538.12 L161.86,538.87 L162.02,539.5 L162.17,540.02 L162.33,540.45 L162.48,540.8 L162.64,541.08 L162.79,541.29 L162.94,541.46 L163.1,541.58 L163.25,541.67 L163.41,541.74 L163.56,541.79" fill="none" stroke="#a3203a" stroke-width="1.15" stroke-linejoin="round"/>
<path d="M216,494.3 L216,494.23 L216.37,494.16 L216.73,494.05 L217.1,493.87 L217.47,493.64 L217.83,493.36 L218.2,493.1 L218.57,492.89 L218.93,492.8 L219.3,492.85 L219.67,493.01 L220.03,493.26 L220.4,493.54 L220.77,493.79 L221.13,493.99 L221.5,494.12 L221.87,494.19 L222.23,494.19 L222.6,494.1 L222.97,493.86 L223.33,493.37 L223.7,492.45 L224.07,490.89 L224.43,488.5 L224.8,485.19 L225.17,481.08 L225.53,476.58 L225.9,472.37 L226.27,469.23 L226.63,467.83 L227,468.49 L227.37,471.06 L227.73,474.97 L228.1,479.44 L228.47,483.74 L228.83,487.34 L229.2,490.01 L229.57,491.77 L229.93,492.78 L230.3,493.25 L230.67,493.36 L231.03,493.26 L231.4,493.05 L231.77,492.8 L232.13,492.57 L232.5,492.39 L232.87,492.31 L233.23,492.32 L233.6,492.44 L233.97,492.63 L234.33,492.89 L234.7,493.16 L235.07,493.43 L235.43,493.67 L235.8,493.87 L236.17,494.02 L236.53,494.13 L236.9,494.2 L237.27,494.24 L237.63,494.27 L238,494.28 L238,494.3 Z" fill="#d3dea4" stroke="#a3203a" stroke-width="1.1" />
<path d="M218,541.9 L218,541.9 L218.32,541.9 L218.63,541.9 L218.95,541.9 L219.27,541.9 L219.58,541.9 L219.9,541.9 L220.22,541.9 L220.53,541.9 L220.85,541.9 L221.17,541.9 L221.48,541.9 L221.8,541.9 L222.12,541.9 L222.43,541.9 L222.75,541.9 L223.07,541.9 L223.38,541.9 L223.7,541.9 L224.02,541.89 L224.33,541.88 L224.65,541.85 L224.97,541.79 L225.28,541.69 L225.6,541.49 L225.92,541.16 L226.23,540.62 L226.55,539.77 L226.87,538.51 L227.18,536.75 L227.5,534.42 L227.82,531.5 L228.13,528.07 L228.45,524.31 L228.77,520.5 L229.08,517.01 L229.4,514.21 L229.72,512.43 L230.03,511.91 L230.35,512.71 L230.67,514.72 L230.98,517.7 L231.3,521.29 L231.62,525.12 L231.93,525.59 L232.25,523.37 L232.57,521.76 L232.88,520.96 L233.2,521.09 L233.52,522.11 L233.83,523.9 L234.15,526.25 L234.47,528.88 L234.78,531.54 L235.1,534.02 L235.42,536.16 L235.73,537.91 L236.05,539.24 L236.37,540.21 L236.68,540.87 L237,541.3 L237,541.9 Z" fill="#d3dea4" stroke="#86b04a" stroke-width="0.9" />
<path d="M218,541.9 L218,541.87 L218.27,541.84 L218.53,541.78 L218.8,541.68 L219.07,541.51 L219.33,541.25 L219.6,540.89 L219.87,540.41 L220.13,539.82 L220.4,539.17 L220.67,538.52 L220.93,537.96 L221.2,537.56 L221.47,537.4 L221.73,537.5 L222,537.84 L222.27,538.37 L222.53,539.01 L222.8,539.66 L223.07,540.27 L223.33,540.78 L223.6,541.17 L223.87,541.45 L224.13,541.63 L224.4,541.72 L224.67,541.75 L224.93,541.71 L225.2,541.59 L225.47,541.36 L225.73,540.95 L226,540.3 L226.27,539.31 L226.53,537.87 L226.8,535.9 L227.07,533.31 L227.33,530.13 L227.6,526.43 L227.87,522.4 L228.13,518.33 L228.4,514.59 L228.67,511.56 L228.93,509.59 L229.2,508.9 L229.47,509.59 L229.73,511.56 L230,514.59 L230.27,518.33 L230.53,522.4 L230.8,526.43 L231.07,530.13 L231.33,533.31 L231.6,535.9 L231.87,537.87 L232.13,539.31 L232.4,540.3 L232.67,540.96 L232.93,541.37 L233.2,541.61 L233.47,541.75 L233.73,541.82 L234,541.86 L234,541.9 Z" fill="#d3dea4" stroke="#a3203a" stroke-width="1.1" />
<path d="M285.1,494.3 L285.1,493.99 L285.43,493.66 L285.75,493.07 L286.08,492.07 L286.4,490.51 L286.73,488.24 L287.05,485.21 L287.38,481.48 L287.7,477.32 L288.02,473.16 L288.35,469.59 L288.68,467.16 L289,466.3 L289.32,467.16 L289.65,469.59 L289.98,473.16 L290.3,477.32 L290.62,481.48 L290.95,485.21 L291.27,488.24 L291.6,490.51 L291.92,492.07 L292.25,493.07 L292.57,493.66 L292.9,493.99 L292.9,494.3 Z" fill="#d3dea4" stroke="none" stroke-width="1" />
<path d="M271.3,494.3 L271.3,494.28 L271.57,494.24 L271.83,494.18 L272.1,494.07 L272.37,493.88 L272.63,493.59 L272.9,493.17 L273.17,492.63 L273.43,491.99 L273.7,491.34 L273.97,490.77 L274.23,490.37 L274.5,490.23 L274.77,490.37 L275.03,490.77 L275.3,491.34 L275.57,491.99 L275.83,492.63 L276.1,493.17 L276.37,493.59 L276.63,493.88 L276.9,494.07 L277.17,494.18 L277.43,494.24 L277.7,494.28 L277.7,494.3 Z" fill="#7a3b8f" stroke="#7a3b8f" stroke-width="0.9" fill-opacity="0.22"/>
<path d="M275.3,494.3 L275.3,494.27 L275.57,494.24 L275.83,494.17 L276.1,494.04 L276.37,493.82 L276.63,493.48 L276.9,493.01 L277.17,492.39 L277.43,491.66 L277.7,490.92 L277.97,490.26 L278.23,489.81 L278.5,489.64 L278.77,489.81 L279.03,490.26 L279.3,490.92 L279.57,491.66 L279.83,492.39 L280.1,493.01 L280.37,493.48 L280.63,493.82 L280.9,494.04 L281.17,494.17 L281.43,494.24 L281.7,494.27 L281.7,494.3 Z" fill="#2f5fae" stroke="#2f5fae" stroke-width="0.9" fill-opacity="0.22"/>
<path d="M279.3,494.3 L279.3,494.27 L279.57,494.24 L279.83,494.17 L280.1,494.04 L280.37,493.82 L280.63,493.48 L280.9,493.01 L281.17,492.39 L281.43,491.66 L281.7,490.92 L281.97,490.26 L282.23,489.81 L282.5,489.64 L282.77,489.81 L283.03,490.26 L283.3,490.92 L283.57,491.66 L283.83,492.39 L284.1,493.01 L284.37,493.48 L284.63,493.82 L284.9,494.04 L285.17,494.17 L285.43,494.24 L285.7,494.27 L285.7,494.3 Z" fill="#2a93a6" stroke="#2a93a6" stroke-width="0.9" fill-opacity="0.22"/>
<path d="M282.8,494.3 L282.8,494.27 L283.07,494.24 L283.33,494.18 L283.6,494.05 L283.87,493.85 L284.13,493.54 L284.4,493.09 L284.67,492.51 L284.93,491.83 L285.2,491.13 L285.47,490.51 L285.73,490.09 L286,489.94 L286.27,490.09 L286.53,490.51 L286.8,491.13 L287.07,491.83 L287.33,492.51 L287.6,493.09 L287.87,493.54 L288.13,493.85 L288.4,494.05 L288.67,494.18 L288.93,494.24 L289.2,494.27 L289.2,494.3 Z" fill="#3565b5" stroke="#3565b5" stroke-width="0.9" fill-opacity="0.22"/>
<path d="M268.9,494.27 L269.05,494.27 L269.2,494.26 L269.35,494.24 L269.51,494.23 L269.66,494.21 L269.81,494.18 L269.96,494.15 L270.11,494.12 L270.26,494.08 L270.42,494.02 L270.57,493.96 L270.72,493.89 L270.87,493.81 L271.02,493.72 L271.17,493.61 L271.33,493.49 L271.48,493.35 L271.63,493.2 L271.78,493.04 L271.93,492.86 L272.08,492.67 L272.24,492.47 L272.39,492.26 L272.54,492.04 L272.69,491.82 L272.84,491.59 L272.99,491.37 L273.15,491.14 L273.3,490.93 L273.45,490.72 L273.6,490.52 L273.75,490.35 L273.9,490.18 L274.06,489.91 L274.21,489.7 L274.36,489.57 L274.51,489.53 L274.66,489.58 L274.81,489.64 L274.96,489.62 L275.12,489.61 L275.27,489.61 L275.42,489.62 L275.57,489.63 L275.72,489.64 L275.87,489.65 L276.03,489.66 L276.18,489.65 L276.33,489.63 L276.48,489.61 L276.63,489.57 L276.78,489.52 L276.94,489.46 L277.09,489.39 L277.24,489.31 L277.39,489.23 L277.54,489.15 L277.69,489.08 L277.85,489.01 L278,488.95 L278.15,488.9 L278.3,488.86 L278.45,488.84 L278.6,488.84 L278.76,488.85 L278.91,488.87 L279.06,488.9 L279.21,488.94 L279.36,488.99 L279.51,489.05 L279.67,489.1 L279.82,489.15 L279.97,489.19 L280.12,489.23 L280.27,489.25 L280.42,489.26 L280.58,489.26 L280.73,489.24 L280.88,489.2 L281.03,489.16 L281.18,489.1 L281.33,489.03 L281.48,488.96 L281.64,488.88 L281.79,488.81 L281.94,488.74 L282.09,488.67 L282.24,488.61 L282.39,488.57 L282.55,488.53 L282.7,488.5 L282.85,488.49 L283,488.48 L283.15,488.48 L283.3,488.49 L283.46,488.51 L283.61,488.53 L283.76,488.55 L283.91,488.57 L284.06,488.59 L284.21,488.6 L284.37,488.61 L284.52,488.6 L284.67,488.59 L284.82,488.56 L284.97,488.51 L285.12,488.44 L285.28,488.34 L285.43,488.21 L285.58,488.03 L285.73,487.79 L285.88,487.49 L286.03,487.1 L286.19,486.62 L286.34,486.01 L286.49,485.28 L286.64,484.41 L286.79,483.38 L286.94,482.21 L287.1,480.88 L287.25,479.41 L287.4,477.83 L287.55,476.16 L287.7,474.43 L287.85,472.71 L288,471.04 L288.16,469.48 L288.31,468.09 L288.46,466.93 L288.61,466.04 L288.76,465.46 L288.91,465.23 L289.07,465.36 L289.22,465.86 L289.37,466.7 L289.52,467.86 L289.67,469.31 L289.82,470.98 L289.98,472.83 L290.13,474.8 L290.28,476.82 L290.43,478.84 L290.58,480.81 L290.73,482.68 L290.89,484.43 L291.04,486.03 L291.19,487.46 L291.34,488.72 L291.49,489.81 L291.64,490.73 L291.8,491.51 L291.95,492.14 L292.1,492.65 L292.25,493.06 L292.4,493.38 L292.55,493.63 L292.71,493.81 L292.86,493.95 L293.01,494.06 L293.16,494.13" fill="none" stroke="#a3203a" stroke-width="1.15" stroke-linejoin="round"/>
<path d="M286.5,541.9 L286.5,541.69 L286.82,541.48 L287.15,541.09 L287.48,540.43 L287.8,539.4 L288.12,537.9 L288.45,535.89 L288.77,533.43 L289.1,530.68 L289.42,527.94 L289.75,525.57 L290.07,523.97 L290.4,523.4 L290.72,523.97 L291.05,525.57 L291.38,527.94 L291.7,530.68 L292.02,533.43 L292.35,535.89 L292.67,537.9 L293,539.4 L293.32,540.43 L293.65,541.09 L293.97,541.48 L294.3,541.69 L294.3,541.9 Z" fill="#d3dea4" stroke="none" stroke-width="1" />
<path d="M271.8,541.9 L271.8,541.83 L272.07,541.74 L272.33,541.57 L272.6,541.25 L272.87,540.7 L273.13,539.86 L273.4,538.66 L273.67,537.11 L273.93,535.31 L274.2,533.45 L274.47,531.8 L274.73,530.67 L275,530.26 L275.27,530.67 L275.53,531.8 L275.8,533.45 L276.07,535.31 L276.33,537.11 L276.6,538.66 L276.87,539.86 L277.13,540.7 L277.4,541.25 L277.67,541.57 L277.93,541.74 L278.2,541.83 L278.2,541.9 Z" fill="#7a3b8f" stroke="#7a3b8f" stroke-width="0.9" fill-opacity="0.22"/>
<path d="M276.1,541.9 L276.1,541.84 L276.37,541.76 L276.63,541.6 L276.9,541.3 L277.17,540.8 L277.43,540.03 L277.7,538.93 L277.97,537.51 L278.23,535.86 L278.5,534.15 L278.77,532.64 L279.03,531.6 L279.3,531.23 L279.57,531.6 L279.83,532.64 L280.1,534.15 L280.37,535.86 L280.63,537.51 L280.9,538.93 L281.17,540.03 L281.43,540.8 L281.7,541.3 L281.97,541.6 L282.23,541.76 L282.5,541.84 L282.5,541.9 Z" fill="#2f5fae" stroke="#2f5fae" stroke-width="0.9" fill-opacity="0.22"/>
<path d="M280.4,541.9 L280.4,541.84 L280.67,541.76 L280.93,541.61 L281.2,541.33 L281.47,540.85 L281.73,540.12 L282,539.07 L282.27,537.71 L282.53,536.13 L282.8,534.5 L283.07,533.07 L283.33,532.07 L283.6,531.72 L283.87,532.07 L284.13,533.07 L284.4,534.5 L284.67,536.13 L284.93,537.71 L285.2,539.07 L285.47,540.12 L285.73,540.85 L286,541.33 L286.27,541.61 L286.53,541.76 L286.8,541.84 L286.8,541.9 Z" fill="#2a93a6" stroke="#2a93a6" stroke-width="0.9" fill-opacity="0.22"/>
<path d="M283.8,541.9 L283.8,541.84 L284.07,541.77 L284.33,541.62 L284.6,541.36 L284.87,540.9 L285.13,540.2 L285.4,539.2 L285.67,537.91 L285.93,536.41 L286.2,534.86 L286.47,533.49 L286.73,532.54 L287,532.2 L287.27,532.54 L287.53,533.49 L287.8,534.86 L288.07,536.41 L288.33,537.91 L288.6,539.2 L288.87,540.2 L289.13,540.9 L289.4,541.36 L289.67,541.62 L289.93,541.77 L290.2,541.84 L290.2,541.9 Z" fill="#3565b5" stroke="#3565b5" stroke-width="0.9" fill-opacity="0.22"/>
<path d="M269.4,541.83 L269.56,541.8 L269.71,541.77 L269.87,541.74 L270.03,541.69 L270.19,541.63 L270.34,541.55 L270.5,541.46 L270.66,541.35 L270.82,541.21 L270.97,541.05 L271.13,540.86 L271.29,540.64 L271.44,540.38 L271.6,540.08 L271.76,539.74 L271.92,539.36 L272.07,538.93 L272.23,538.47 L272.39,537.96 L272.54,537.41 L272.7,536.82 L272.86,536.21 L273.02,535.57 L273.17,534.91 L273.33,534.25 L273.49,533.59 L273.65,532.95 L273.8,532.32 L273.96,531.74 L274.12,531.2 L274.27,530.71 L274.43,530.29 L274.59,529.93 L274.75,529.65 L274.9,529.45 L275.06,529.32 L275.22,529.27 L275.38,529.28 L275.53,529.36 L275.69,529.49 L275.85,529.66 L276,529.85 L276.16,530.07 L276.32,530.29 L276.48,530.5 L276.63,530.69 L276.79,530.85 L276.95,530.98 L277.11,531.06 L277.26,531.1 L277.42,531.09 L277.58,531.04 L277.73,530.95 L277.89,530.83 L278.05,530.68 L278.21,530.52 L278.36,530.36 L278.52,530.2 L278.68,530.05 L278.83,529.94 L278.99,529.85 L279.15,529.8 L279.31,529.8 L279.46,529.84 L279.62,529.92 L279.78,530.05 L279.94,530.2 L280.09,530.39 L280.25,530.59 L280.41,530.8 L280.56,531.01 L280.72,531.2 L280.88,531.38 L281.04,531.52 L281.19,531.63 L281.35,531.7 L281.51,531.71 L281.67,531.68 L281.82,531.61 L281.98,531.49 L282.14,531.33 L282.29,531.13 L282.45,530.92 L282.61,530.68 L282.77,530.44 L282.92,530.2 L283.08,529.97 L283.24,529.76 L283.4,529.56 L283.55,529.39 L283.71,529.25 L283.87,529.14 L284.02,529.06 L284.18,529.01 L284.34,528.97 L284.5,528.96 L284.65,528.97 L284.81,528.98 L284.97,529.01 L285.12,529.04 L285.28,529.07 L285.44,529.1 L285.6,529.14 L285.75,529.17 L285.91,529.21 L286.07,529.26 L286.23,529.31 L286.38,529.38 L286.54,529.45 L286.7,529.53 L286.85,529.62 L287.01,529.71 L287.17,529.79 L287.33,529.85 L287.48,529.89 L287.64,529.87 L287.8,529.8 L287.96,529.65 L288.11,529.42 L288.27,529.08 L288.43,528.65 L288.58,528.1 L288.74,527.47 L288.9,526.74 L289.06,525.96 L289.21,525.15 L289.37,524.34 L289.53,523.57 L289.69,522.89 L289.84,522.33 L290,521.94 L290.16,521.75 L290.31,521.77 L290.47,522.03 L290.63,522.52 L290.79,523.23 L290.94,524.16 L291.1,525.26 L291.26,526.5 L291.42,527.85 L291.57,529.25 L291.73,530.67 L291.89,532.08 L292.04,533.43 L292.2,534.7 L292.36,535.86 L292.52,536.91 L292.67,537.84 L292.83,538.64 L292.99,539.32 L293.14,539.89 L293.3,540.35 L293.46,540.73 L293.62,541.03 L293.77,541.26 L293.93,541.43 L294.09,541.57 L294.25,541.67 L294.4,541.74 L294.56,541.79" fill="none" stroke="#a3203a" stroke-width="1.15" stroke-linejoin="round"/>
<path d="M344,494.3 L344,494.27 L344.42,494.21 L344.83,494.1 L345.25,493.89 L345.67,493.55 L346.08,493.1 L346.5,492.6 L346.92,492.17 L347.33,491.92 L347.75,491.95 L348.17,492.24 L348.58,492.7 L349,493.2 L349.42,493.63 L349.83,493.94 L350.25,494.13 L350.67,494.23 L351.08,494.27 L351.5,494.29 L351.92,494.3 L352.33,494.3 L352.75,494.29 L353.17,494.27 L353.58,494.21 L354,494.06 L354.42,493.74 L354.83,493.11 L355.25,491.96 L355.67,490.12 L356.08,487.44 L356.5,484.01 L356.92,480.15 L357.33,476.46 L357.75,473.65 L358.17,472.25 L358.58,472.41 L359,473.79 L359.42,475.79 L359.83,477.8 L360.25,479.54 L360.67,481.09 L361.08,482.74 L361.5,484.71 L361.92,486.93 L362.33,489.12 L362.75,490.9 L363.17,492 L363.58,492.25 L364,491.65 L364.42,490.44 L364.83,489.13 L365.25,488.35 L365.67,488.5 L366.08,489.55 L366.5,491.02 L366.92,492.4 L367.33,493.37 L367.75,493.92 L368.17,494.17 L368.58,494.26 L369,494.29 L369,494.3 Z" fill="#d3dea4" stroke="#a3203a" stroke-width="1.1" />
<path d="M355,541.9 L355,541.9 L355.23,541.89 L355.47,541.89 L355.7,541.88 L355.93,541.86 L356.17,541.83 L356.4,541.77 L356.63,541.68 L356.87,541.54 L357.1,541.32 L357.33,540.99 L357.57,540.52 L357.8,539.85 L358.03,538.93 L358.27,537.74 L358.5,536.22 L358.73,534.35 L358.97,532.15 L359.2,529.65 L359.43,526.93 L359.67,524.11 L359.9,521.34 L360.13,518.78 L360.37,516.62 L360.6,515.02 L360.83,514.1 L361.07,513.93 L361.3,514.54 L361.53,515.86 L361.77,517.8 L362,520.2 L362.23,522.91 L362.47,525.73 L362.7,528.5 L362.93,527.69 L363.17,525.98 L363.4,524.57 L363.63,523.54 L363.87,522.99 L364.1,522.95 L364.33,523.43 L364.57,524.39 L364.8,525.76 L365.03,527.43 L365.27,529.28 L365.5,531.2 L365.73,533.07 L365.97,534.82 L366.2,536.37 L366.43,537.7 L366.67,538.8 L366.9,539.68 L367.13,540.35 L367.37,540.85 L367.6,541.2 L367.83,541.45 L368.07,541.62 L368.3,541.73 L368.53,541.8 L368.77,541.84 L369,541.87 L369,541.9 Z" fill="#d3dea4" stroke="#86b04a" stroke-width="0.9" />
<path d="M355,541.9 L355,541.89 L355.18,541.89 L355.37,541.88 L355.55,541.87 L355.73,541.85 L355.92,541.82 L356.1,541.77 L356.28,541.7 L356.47,541.59 L356.65,541.42 L356.83,541.19 L357.02,540.87 L357.2,540.43 L357.38,539.83 L357.57,539.06 L357.75,538.08 L357.93,536.86 L358.12,535.38 L358.3,533.63 L358.48,531.61 L358.67,529.36 L358.85,526.92 L359.03,524.35 L359.22,521.75 L359.4,519.21 L359.58,516.86 L359.77,514.81 L359.95,513.17 L360.13,512.03 L360.32,511.46 L360.5,511.49 L360.68,512.12 L360.87,513.3 L361.05,514.98 L361.23,517.06 L361.42,519.44 L361.6,521.98 L361.78,524.59 L361.97,527.15 L362.15,529.57 L362.33,531.81 L362.52,533.8 L362.7,535.52 L362.88,536.98 L363.07,538.18 L363.25,539.14 L363.43,539.9 L363.62,540.47 L363.8,540.9 L363.98,541.22 L364.17,541.44 L364.35,541.6 L364.53,541.71 L364.72,541.78 L364.9,541.82 L365.08,541.85 L365.27,541.87 L365.45,541.88 L365.63,541.89 L365.82,541.89 L366,541.9 L366,541.9 Z" fill="#d3dea4" stroke="#a3203a" stroke-width="1.1" />
<path d="M413.6,494.3 L413.6,494.19 L413.9,494.07 L414.2,493.85 L414.5,493.48 L414.8,492.91 L415.1,492.07 L415.4,490.96 L415.7,489.58 L416,488.05 L416.3,486.53 L416.6,485.21 L416.9,484.32 L417.2,484 L417.5,484.32 L417.8,485.21 L418.1,486.53 L418.4,488.05 L418.7,489.58 L419,490.96 L419.3,492.07 L419.6,492.91 L419.9,493.48 L420.2,493.85 L420.5,494.07 L420.8,494.19 L420.8,494.3 Z" fill="#d3dea4" stroke="none" stroke-width="1" />
<path d="M399.16,494.3 L399.16,494.26 L399.41,494.21 L399.67,494.11 L399.92,493.92 L400.17,493.6 L400.43,493.11 L400.68,492.41 L400.93,491.51 L401.19,490.46 L401.44,489.37 L401.69,488.41 L401.95,487.75 L402.2,487.51 L402.45,487.75 L402.71,488.41 L402.96,489.37 L403.21,490.46 L403.47,491.51 L403.72,492.41 L403.97,493.11 L404.23,493.6 L404.48,493.92 L404.73,494.11 L404.99,494.21 L405.24,494.26 L405.24,494.3 Z" fill="#7a3b8f" stroke="#7a3b8f" stroke-width="0.9" fill-opacity="0.22"/>
<path d="M403.16,494.3 L403.16,494.26 L403.41,494.2 L403.67,494.09 L403.92,493.89 L404.17,493.55 L404.43,493.03 L404.68,492.28 L404.93,491.31 L405.19,490.18 L405.44,489.02 L405.69,487.99 L405.95,487.28 L406.2,487.03 L406.45,487.28 L406.71,487.99 L406.96,489.02 L407.21,490.18 L407.47,491.31 L407.72,492.28 L407.97,493.03 L408.23,493.55 L408.48,493.89 L408.73,494.09 L408.99,494.2 L409.24,494.26 L409.24,494.3 Z" fill="#2f5fae" stroke="#2f5fae" stroke-width="0.9" fill-opacity="0.22"/>
<path d="M407.16,494.3 L407.16,494.26 L407.41,494.2 L407.67,494.09 L407.92,493.89 L408.17,493.55 L408.43,493.03 L408.68,492.28 L408.93,491.31 L409.19,490.18 L409.44,489.02 L409.69,487.99 L409.95,487.28 L410.2,487.03 L410.45,487.28 L410.71,487.99 L410.96,489.02 L411.21,490.18 L411.47,491.31 L411.72,492.28 L411.97,493.03 L412.23,493.55 L412.48,493.89 L412.73,494.09 L412.99,494.2 L413.24,494.26 L413.24,494.3 Z" fill="#2a93a6" stroke="#2a93a6" stroke-width="0.9" fill-opacity="0.22"/>
<path d="M411.16,494.3 L411.16,494.26 L411.41,494.2 L411.67,494.09 L411.92,493.89 L412.17,493.55 L412.43,493.03 L412.68,492.28 L412.93,491.31 L413.19,490.18 L413.44,489.02 L413.69,487.99 L413.95,487.28 L414.2,487.03 L414.45,487.28 L414.71,487.99 L414.96,489.02 L415.21,490.18 L415.47,491.31 L415.72,492.28 L415.97,493.03 L416.23,493.55 L416.48,493.89 L416.73,494.09 L416.99,494.2 L417.24,494.26 L417.24,494.3 Z" fill="#3565b5" stroke="#3565b5" stroke-width="0.9" fill-opacity="0.22"/>
<path d="M396.6,494.26 L396.75,494.24 L396.91,494.23 L397.06,494.21 L397.21,494.18 L397.36,494.15 L397.52,494.11 L397.67,494.05 L397.82,493.99 L397.97,493.92 L398.13,493.83 L398.28,493.73 L398.43,493.61 L398.59,493.47 L398.74,493.31 L398.89,493.13 L399.04,492.92 L399.2,492.69 L399.35,492.44 L399.5,492.16 L399.65,491.86 L399.81,491.54 L399.96,491.2 L400.11,490.84 L400.27,490.48 L400.42,490.1 L400.57,489.72 L400.72,489.34 L400.88,488.97 L401.03,488.61 L401.18,488.27 L401.34,487.95 L401.49,487.66 L401.64,487.4 L401.79,487.17 L401.95,486.98 L402.1,486.83 L402.25,486.71 L402.4,486.63 L402.56,486.58 L402.71,486.56 L402.86,486.57 L403.02,486.59 L403.17,486.62 L403.32,486.66 L403.47,486.7 L403.63,486.73 L403.78,486.75 L403.93,486.76 L404.08,486.75 L404.24,486.72 L404.39,486.68 L404.54,486.61 L404.7,486.53 L404.85,486.44 L405,486.33 L405.15,486.23 L405.31,486.12 L405.46,486.02 L405.61,485.92 L405.76,485.85 L405.92,485.79 L406.07,485.75 L406.22,485.74 L406.38,485.74 L406.53,485.77 L406.68,485.82 L406.83,485.89 L406.99,485.96 L407.14,486.05 L407.29,486.14 L407.45,486.22 L407.6,486.3 L407.75,486.36 L407.9,486.41 L408.06,486.44 L408.21,486.45 L408.36,486.44 L408.51,486.41 L408.67,486.35 L408.82,486.29 L408.97,486.21 L409.13,486.12 L409.28,486.03 L409.43,485.94 L409.58,485.86 L409.74,485.79 L409.89,485.74 L410.04,485.71 L410.19,485.7 L410.35,485.71 L410.5,485.74 L410.65,485.79 L410.81,485.86 L410.96,485.94 L411.11,486.02 L411.26,486.12 L411.42,486.2 L411.57,486.29 L411.72,486.36 L411.87,486.41 L412.03,486.45 L412.18,486.47 L412.33,486.47 L412.49,486.45 L412.64,486.41 L412.79,486.35 L412.94,486.29 L413.1,486.21 L413.25,486.14 L413.4,486.06 L413.56,486 L413.71,485.93 L413.86,485.88 L414.01,485.84 L414.17,485.8 L414.32,485.77 L414.47,485.73 L414.62,485.68 L414.78,485.61 L414.93,485.51 L415.08,485.37 L415.24,485.19 L415.39,484.96 L415.54,484.68 L415.69,484.35 L415.85,483.99 L416,483.6 L416.15,483.22 L416.3,482.85 L416.46,482.52 L416.61,482.26 L416.76,482.09 L416.92,482.03 L417.07,482.1 L417.22,482.31 L417.37,482.66 L417.53,483.14 L417.68,483.75 L417.83,484.46 L417.98,485.26 L418.14,486.11 L418.29,487 L418.44,487.88 L418.6,488.74 L418.75,489.57 L418.9,490.33 L419.05,491.02 L419.21,491.63 L419.36,492.16 L419.51,492.62 L419.67,492.99 L419.82,493.3 L419.97,493.55 L420.12,493.75 L420.28,493.9 L420.43,494.01 L420.58,494.1 L420.73,494.16 L420.89,494.2 L421.04,494.23" fill="none" stroke="#a3203a" stroke-width="1.15" stroke-linejoin="round"/>
<path d="M417.5,541.9 L417.5,541.71 L417.77,541.5 L418.05,541.13 L418.32,540.51 L418.6,539.53 L418.88,538.12 L419.15,536.22 L419.43,533.89 L419.7,531.29 L419.98,528.69 L420.25,526.46 L420.53,524.94 L420.8,524.4 L421.07,524.94 L421.35,526.46 L421.62,528.69 L421.9,531.29 L422.18,533.89 L422.45,536.22 L422.73,538.12 L423,539.53 L423.28,540.51 L423.55,541.13 L423.83,541.5 L424.1,541.71 L424.1,541.9 Z" fill="#d3dea4" stroke="none" stroke-width="1" />
<path d="M403.72,541.9 L403.72,541.82 L403.96,541.72 L404.2,541.51 L404.44,541.14 L404.68,540.5 L404.92,539.52 L405.16,538.12 L405.4,536.32 L405.64,534.21 L405.88,532.04 L406.12,530.12 L406.36,528.79 L406.6,528.32 L406.84,528.79 L407.08,530.12 L407.32,532.04 L407.56,534.21 L407.8,536.32 L408.04,538.12 L408.28,539.52 L408.52,540.5 L408.76,541.14 L409,541.51 L409.24,541.72 L409.48,541.82 L409.48,541.9 Z" fill="#7a3b8f" stroke="#7a3b8f" stroke-width="0.9" fill-opacity="0.22"/>
<path d="M407.12,541.9 L407.12,541.82 L407.36,541.71 L407.6,541.5 L407.84,541.11 L408.08,540.45 L408.32,539.44 L408.56,537.99 L408.8,536.12 L409.04,533.94 L409.28,531.69 L409.52,529.7 L409.76,528.33 L410,527.83 L410.24,528.33 L410.48,529.7 L410.72,531.69 L410.96,533.94 L411.2,536.12 L411.44,537.99 L411.68,539.44 L411.92,540.45 L412.16,541.11 L412.4,541.5 L412.64,541.71 L412.88,541.82 L412.88,541.9 Z" fill="#2f5fae" stroke="#2f5fae" stroke-width="0.9" fill-opacity="0.22"/>
<path d="M410.52,541.9 L410.52,541.82 L410.76,541.71 L411,541.5 L411.24,541.11 L411.48,540.45 L411.72,539.44 L411.96,537.99 L412.2,536.12 L412.44,533.94 L412.68,531.69 L412.92,529.7 L413.16,528.33 L413.4,527.83 L413.64,528.33 L413.88,529.7 L414.12,531.69 L414.36,533.94 L414.6,536.12 L414.84,537.99 L415.08,539.44 L415.32,540.45 L415.56,541.11 L415.8,541.5 L416.04,541.71 L416.28,541.82 L416.28,541.9 Z" fill="#2a93a6" stroke="#2a93a6" stroke-width="0.9" fill-opacity="0.22"/>
<path d="M413.92,541.9 L413.92,541.82 L414.16,541.71 L414.4,541.5 L414.64,541.11 L414.88,540.45 L415.12,539.44 L415.36,537.99 L415.6,536.12 L415.84,533.94 L416.08,531.69 L416.32,529.7 L416.56,528.33 L416.8,527.83 L417.04,528.33 L417.28,529.7 L417.52,531.69 L417.76,533.94 L418,536.12 L418.24,537.99 L418.48,539.44 L418.72,540.45 L418.96,541.11 L419.2,541.5 L419.44,541.71 L419.68,541.82 L419.68,541.9 Z" fill="#3565b5" stroke="#3565b5" stroke-width="0.9" fill-opacity="0.22"/>
<path d="M402.28,541.82 L402.42,541.78 L402.56,541.74 L402.69,541.69 L402.83,541.62 L402.97,541.52 L403.11,541.41 L403.24,541.26 L403.38,541.08 L403.52,540.86 L403.66,540.6 L403.8,540.28 L403.93,539.91 L404.07,539.48 L404.21,538.98 L404.35,538.42 L404.48,537.8 L404.62,537.11 L404.76,536.36 L404.9,535.57 L405.04,534.73 L405.17,533.87 L405.31,532.99 L405.45,532.12 L405.59,531.27 L405.72,530.46 L405.86,529.71 L406,529.04 L406.14,528.46 L406.27,527.98 L406.41,527.61 L406.55,527.36 L406.69,527.21 L406.83,527.18 L406.96,527.24 L407.1,527.39 L407.24,527.59 L407.38,527.84 L407.51,528.11 L407.65,528.37 L407.79,528.61 L407.93,528.8 L408.07,528.93 L408.2,528.99 L408.34,528.98 L408.48,528.88 L408.62,528.71 L408.75,528.47 L408.89,528.18 L409.03,527.85 L409.17,527.51 L409.31,527.17 L409.44,526.86 L409.58,526.59 L409.72,526.39 L409.86,526.26 L409.99,526.2 L410.13,526.24 L410.27,526.35 L410.41,526.54 L410.55,526.79 L410.68,527.08 L410.82,527.4 L410.96,527.73 L411.1,528.03 L411.23,528.31 L411.37,528.52 L411.51,528.67 L411.65,528.75 L411.78,528.74 L411.92,528.65 L412.06,528.48 L412.2,528.25 L412.34,527.96 L412.47,527.65 L412.61,527.32 L412.75,527.01 L412.89,526.72 L413.02,526.48 L413.16,526.31 L413.3,526.21 L413.44,526.19 L413.58,526.25 L413.71,526.39 L413.85,526.6 L413.99,526.87 L414.13,527.18 L414.26,527.5 L414.4,527.83 L414.54,528.13 L414.68,528.38 L414.82,528.58 L414.95,528.71 L415.09,528.76 L415.23,528.73 L415.37,528.62 L415.5,528.45 L415.64,528.21 L415.78,527.93 L415.92,527.64 L416.06,527.35 L416.19,527.09 L416.33,526.87 L416.47,526.73 L416.61,526.67 L416.74,526.72 L416.88,526.87 L417.02,527.14 L417.16,527.52 L417.29,528.01 L417.43,528.58 L417.57,529.22 L417.71,529.91 L417.85,530.62 L417.98,531.32 L418.12,531.98 L418.26,532.58 L418.4,533.07 L418.53,533.44 L418.67,533.66 L418.81,533.7 L418.95,533.57 L419.09,533.24 L419.22,532.74 L419.36,532.06 L419.5,531.24 L419.64,530.3 L419.77,529.29 L419.91,528.25 L420.05,527.23 L420.19,526.29 L420.33,525.48 L420.46,524.84 L420.6,524.41 L420.74,524.22 L420.88,524.29 L421.01,524.62 L421.15,525.19 L421.29,525.99 L421.43,526.99 L421.56,528.13 L421.7,529.38 L421.84,530.7 L421.98,532.03 L422.12,533.34 L422.25,534.59 L422.39,535.75 L422.53,536.81 L422.67,537.75 L422.8,538.57 L422.94,539.27 L423.08,539.86 L423.22,540.34 L423.36,540.72 L423.49,541.03 L423.63,541.26 L423.77,541.44 L423.91,541.58 L424.04,541.67 L424.18,541.75 L424.32,541.8" fill="none" stroke="#a3203a" stroke-width="1.15" stroke-linejoin="round"/>
<text x="7.3" y="569.1" font-size="12.8" stroke="#000" stroke-width="0.45" fill="#000">H</text>
<rect x="99.85" y="582.75" width="3.3" height="3.3" fill="#fff" stroke="#111" stroke-width="0.9" />
<text x="105.3" y="587" font-size="7.2" textLength="33.4" lengthAdjust="spacingAndGlyphs" fill="#333" >WT DAY 0</text>
<rect x="147.55" y="582.75" width="3.3" height="3.3" fill="#6cb244" stroke="#2a3a20" stroke-width="0.9" />
<text x="154.4" y="587" font-size="7.2" textLength="31.8" lengthAdjust="spacingAndGlyphs" fill="#333" >WT DAY 7</text>
<path d="M195.2,582.69 L199,582.69 L197.1,586.11 Z" fill="#fff" stroke="#111" stroke-width="0.7" />
<text x="202.5" y="587" font-size="7.2" textLength="39.4" lengthAdjust="spacingAndGlyphs" fill="#333" >PD1<tspan font-size="4.2" dy="-2.8">-/-</tspan><tspan dy="2.8"> DAY 0</tspan></text>
<path d="M249.95,582.64 L253.85,582.64 L251.9,586.15 Z" fill="#111" stroke="#111" stroke-width="0.7" />
<text x="257.3" y="587" font-size="7.2" textLength="37.9" lengthAdjust="spacingAndGlyphs" fill="#333" >PD1<tspan font-size="4.2" dy="-2.8">-/-</tspan><tspan dy="2.8"> DAY 7</tspan></text>
<text transform="translate(28.4,663.8) rotate(-90)" font-size="8.4" textLength="59.6" lengthAdjust="spacingAndGlyphs" >Proliferation (%)</text>
<line x1="50.6" y1="600.4" x2="50.6" y2="669.4" stroke="#231f20" stroke-width="1.5" />
<line x1="47.9" y1="668.8" x2="50.6" y2="668.8" stroke="#231f20" stroke-width="1" />
<text x="43.9" y="671.2" font-size="6.8" text-anchor="end" fill="#333" >0</text>
<line x1="47.9" y1="655.7" x2="50.6" y2="655.7" stroke="#231f20" stroke-width="1" />
<text x="43.9" y="658.1" font-size="6.8" text-anchor="end" fill="#333" >20</text>
<line x1="47.9" y1="642.6" x2="50.6" y2="642.6" stroke="#231f20" stroke-width="1" />
<text x="43.9" y="645" font-size="6.8" text-anchor="end" fill="#333" >40</text>
<line x1="47.9" y1="629.5" x2="50.6" y2="629.5" stroke="#231f20" stroke-width="1" />
<text x="43.9" y="631.9" font-size="6.8" text-anchor="end" fill="#333" >60</text>
<line x1="47.9" y1="616.4" x2="50.6" y2="616.4" stroke="#231f20" stroke-width="1" />
<text x="43.9" y="618.8" font-size="6.8" text-anchor="end" fill="#333" >80</text>
<line x1="47.9" y1="603.3" x2="50.6" y2="603.3" stroke="#231f20" stroke-width="1" />
<text x="43.9" y="605.7" font-size="6.8" text-anchor="end" fill="#333" >100</text>
<text x="81.1" y="598.2" font-size="6.8" font-weight="bold" textLength="38.6" lengthAdjust="spacingAndGlyphs" >CD4<tspan font-size="4.4" dy="-2.6">+</tspan><tspan dy="2.6">Foxp3</tspan><tspan font-size="4.4" dy="-2.6">+</tspan></text>
<line x1="64" y1="601.6" x2="137" y2="601.6" stroke="#231f20" stroke-width="1.3" />
<line x1="53.3" y1="617.2" x2="86.2" y2="617.2" stroke="#231f20" stroke-width="1.3" />
<text x="56.6" y="614.9" font-size="6.4" fill="#333" textLength="25.6" lengthAdjust="spacingAndGlyphs"><tspan font-style="italic">P</tspan> &lt; 0.05</text>
<line x1="92.5" y1="615.3" x2="141.3" y2="615.3" stroke="#231f20" stroke-width="1.3" />
<text x="104.1" y="612.5" font-size="6.4" fill="#333" textLength="24.3" lengthAdjust="spacingAndGlyphs"><tspan font-style="italic">P</tspan> &lt; 0.01</text>
<line x1="108.1" y1="643.7" x2="141.3" y2="643.7" stroke="#231f20" stroke-width="1.3" />
<text x="111.9" y="640.2" font-size="6.4" fill="#333" textLength="25.1" lengthAdjust="spacingAndGlyphs"><tspan font-style="italic">P</tspan> &lt; 0.05</text>
<rect x="81.1" y="632.8" width="13.9" height="36" fill="#6cb244" />
<rect x="129.2" y="655.3" width="12.5" height="13.5" fill="#cd0680" />
<rect x="57.75" y="665.85" width="3.1" height="3.1" fill="#fff" stroke="#111" stroke-width="0.8" />
<rect x="60.85" y="666.05" width="3.1" height="3.1" fill="#fff" stroke="#111" stroke-width="0.8" />
<rect x="64.45" y="665.85" width="3.1" height="3.1" fill="#fff" stroke="#111" stroke-width="0.8" />
<rect x="67.85" y="662.95" width="3.1" height="3.1" fill="#fff" stroke="#111" stroke-width="0.8" />
<rect x="67.85" y="665.85" width="3.1" height="3.1" fill="#fff" stroke="#111" stroke-width="0.8" />
<line x1="88.4" y1="629" x2="88.4" y2="637" stroke="#231f20" stroke-width="0.9" />
<line x1="86.15" y1="629" x2="90.65" y2="629" stroke="#231f20" stroke-width="0.9" />
<line x1="86.15" y1="637" x2="90.65" y2="637" stroke="#231f20" stroke-width="0.9" />
<rect x="86.5" y="620.1" width="3" height="3" fill="#6cb244" stroke="#2a3a20" stroke-width="0.8" />
<rect x="83.9" y="627.9" width="3" height="3" fill="#6cb244" stroke="#2a3a20" stroke-width="0.8" />
<rect x="88.7" y="630" width="3" height="3" fill="#6cb244" stroke="#2a3a20" stroke-width="0.8" />
<rect x="89.5" y="633.5" width="3" height="3" fill="#6cb244" stroke="#2a3a20" stroke-width="0.8" />
<rect x="83.6" y="638.2" width="3" height="3" fill="#6cb244" stroke="#2a3a20" stroke-width="0.8" />
<rect x="89" y="636.8" width="3" height="3" fill="#6cb244" stroke="#2a3a20" stroke-width="0.8" />
<path d="M106.45,665.54 L110.15,665.54 L108.3,668.87 Z" fill="#fff" stroke="#111" stroke-width="0.7" />
<path d="M109.95,665.94 L113.65,665.94 L111.8,669.26 Z" fill="#fff" stroke="#111" stroke-width="0.7" />
<path d="M113.55,665.54 L117.25,665.54 L115.4,668.87 Z" fill="#fff" stroke="#111" stroke-width="0.7" />
<line x1="135.5" y1="651" x2="135.5" y2="658" stroke="#231f20" stroke-width="0.9" />
<line x1="133.5" y1="651" x2="137.5" y2="651" stroke="#231f20" stroke-width="0.9" />
<line x1="133.5" y1="658" x2="137.5" y2="658" stroke="#231f20" stroke-width="0.9" />
<path d="M130.85,647.24 L134.55,647.24 L132.7,650.56 Z" fill="#2a1a22" stroke="#1a1015" stroke-width="0.7" />
<path d="M136.85,647.24 L140.55,647.24 L138.7,650.56 Z" fill="#2a1a22" stroke="#1a1015" stroke-width="0.7" />
<path d="M134.35,651.04 L138.05,651.04 L136.2,654.37 Z" fill="#2a1a22" stroke="#1a1015" stroke-width="0.7" />
<path d="M132.15,649.54 L135.85,649.54 L134,652.87 Z" fill="#2a1a22" stroke="#1a1015" stroke-width="0.7" />
<path d="M137.65,651.84 L141.35,651.84 L139.5,655.16 Z" fill="#2a1a22" stroke="#1a1015" stroke-width="0.7" />
<path d="M130.85,659.13 L134.55,659.13 L132.7,662.46 Z" fill="#2a1a22" stroke="#1a1015" stroke-width="0.7" />
<line x1="166.9" y1="600.8" x2="166.9" y2="669.4" stroke="#231f20" stroke-width="1.5" />
<line x1="164.2" y1="668.8" x2="166.9" y2="668.8" stroke="#231f20" stroke-width="1" />
<text x="160.8" y="671.2" font-size="6.8" text-anchor="end" fill="#333" >0</text>
<line x1="164.2" y1="655.88" x2="166.9" y2="655.88" stroke="#231f20" stroke-width="1" />
<text x="160.8" y="658.28" font-size="6.8" text-anchor="end" fill="#333" >20</text>
<line x1="164.2" y1="642.96" x2="166.9" y2="642.96" stroke="#231f20" stroke-width="1" />
<text x="160.8" y="645.36" font-size="6.8" text-anchor="end" fill="#333" >40</text>
<line x1="164.2" y1="630.04" x2="166.9" y2="630.04" stroke="#231f20" stroke-width="1" />
<text x="160.8" y="632.44" font-size="6.8" text-anchor="end" fill="#333" >60</text>
<line x1="164.2" y1="617.12" x2="166.9" y2="617.12" stroke="#231f20" stroke-width="1" />
<text x="160.8" y="619.52" font-size="6.8" text-anchor="end" fill="#333" >80</text>
<line x1="164.2" y1="604.2" x2="166.9" y2="604.2" stroke="#231f20" stroke-width="1" />
<text x="160.8" y="606.6" font-size="6.8" text-anchor="end" fill="#333" >100</text>
<text x="198.7" y="596.9" font-size="6.8" font-weight="bold" textLength="43.6" lengthAdjust="spacingAndGlyphs" >CD4<tspan font-size="4.4" dy="-2.6">+</tspan><tspan dy="2.6">Foxp3</tspan><tspan font-size="4.4" dy="-2.6">neg</tspan></text>
<line x1="185.2" y1="600.8" x2="255.8" y2="600.8" stroke="#231f20" stroke-width="1.3" />
<line x1="205.4" y1="618.1" x2="249.6" y2="618.1" stroke="#231f20" stroke-width="1.3" />
<text x="215" y="615.1" font-size="6.4" fill="#333" textLength="25.4" lengthAdjust="spacingAndGlyphs"><tspan font-style="italic">P</tspan> = 0.33</text>
<line x1="174.2" y1="632.1" x2="207.3" y2="632.1" stroke="#231f20" stroke-width="1.3" />
<text x="178.5" y="628.7" font-size="6.4" fill="#333" textLength="25" lengthAdjust="spacingAndGlyphs"><tspan font-style="italic">P</tspan> &lt; 0.05</text>
<line x1="225.4" y1="630.2" x2="254.2" y2="630.2" stroke="#231f20" stroke-width="1.3" />
<text x="228.8" y="627.1" font-size="6.4" fill="#333" textLength="25" lengthAdjust="spacingAndGlyphs"><tspan font-style="italic">P</tspan> &lt; 0.05</text>
<rect x="198.7" y="653.1" width="13.4" height="15.7" fill="#6cb244" />
<rect x="245.8" y="647.5" width="12.9" height="21.3" fill="#cd0680" />
<rect x="174.95" y="665.95" width="3.1" height="3.1" fill="#fff" stroke="#111" stroke-width="0.8" />
<rect x="178.95" y="666.25" width="3.1" height="3.1" fill="#fff" stroke="#111" stroke-width="0.8" />
<rect x="182.95" y="665.95" width="3.1" height="3.1" fill="#fff" stroke="#111" stroke-width="0.8" />
<rect x="185.95" y="665.65" width="3.1" height="3.1" fill="#fff" stroke="#111" stroke-width="0.8" />
<line x1="205.5" y1="646" x2="205.5" y2="660" stroke="#231f20" stroke-width="0.9" />
<line x1="203.5" y1="646" x2="207.5" y2="646" stroke="#231f20" stroke-width="0.9" />
<line x1="203.5" y1="660" x2="207.5" y2="660" stroke="#231f20" stroke-width="0.9" />
<rect x="203.9" y="636.2" width="3" height="3" fill="#6cb244" stroke="#2a3a20" stroke-width="0.8" />
<rect x="202.5" y="645.4" width="3" height="3" fill="#6cb244" stroke="#2a3a20" stroke-width="0.8" />
<rect x="204.5" y="654.5" width="3" height="3" fill="#6cb244" stroke="#2a3a20" stroke-width="0.8" />
<rect x="206.4" y="657.9" width="3" height="3" fill="#6cb244" stroke="#2a3a20" stroke-width="0.8" />
<rect x="201" y="661.8" width="3" height="3" fill="#6cb244" stroke="#2a3a20" stroke-width="0.8" />
<path d="M222.65,665.54 L226.35,665.54 L224.5,668.87 Z" fill="#fff" stroke="#111" stroke-width="0.7" />
<path d="M226.15,665.84 L229.85,665.84 L228,669.16 Z" fill="#fff" stroke="#111" stroke-width="0.7" />
<path d="M229.65,665.54 L233.35,665.54 L231.5,668.87 Z" fill="#fff" stroke="#111" stroke-width="0.7" />
<path d="M231.65,665.84 L235.35,665.84 L233.5,669.16 Z" fill="#fff" stroke="#111" stroke-width="0.7" />
<line x1="252.2" y1="644.5" x2="252.2" y2="650.5" stroke="#231f20" stroke-width="0.9" />
<line x1="250.2" y1="644.5" x2="254.2" y2="644.5" stroke="#231f20" stroke-width="0.9" />
<line x1="250.2" y1="650.5" x2="254.2" y2="650.5" stroke="#231f20" stroke-width="0.9" />
<path d="M249.65,634.63 L253.35,634.63 L251.5,637.96 Z" fill="#2a1a22" stroke="#1a1015" stroke-width="0.7" />
<path d="M246.95,642.34 L250.65,642.34 L248.8,645.66 Z" fill="#2a1a22" stroke="#1a1015" stroke-width="0.7" />
<path d="M250.15,641.94 L253.85,641.94 L252,645.26 Z" fill="#2a1a22" stroke="#1a1015" stroke-width="0.7" />
<path d="M253.35,642.34 L257.05,642.34 L255.2,645.66 Z" fill="#2a1a22" stroke="#1a1015" stroke-width="0.7" />
<path d="M248.65,645.34 L252.35,645.34 L250.5,648.66 Z" fill="#2a1a22" stroke="#1a1015" stroke-width="0.7" />
<path d="M252.15,644.84 L255.85,644.84 L254,648.16 Z" fill="#2a1a22" stroke="#1a1015" stroke-width="0.7" />
<path d="M250.45,656.84 L254.15,656.84 L252.3,660.16 Z" fill="#2a1a22" stroke="#1a1015" stroke-width="0.7" />
<line x1="284.2" y1="603" x2="284.2" y2="669.2" stroke="#231f20" stroke-width="1.5" />
<line x1="281.5" y1="668.6" x2="284.2" y2="668.6" stroke="#231f20" stroke-width="1" />
<text x="278.9" y="671" font-size="6.8" text-anchor="end" fill="#333" >0</text>
<line x1="281.5" y1="656.12" x2="284.2" y2="656.12" stroke="#231f20" stroke-width="1" />
<text x="278.9" y="658.52" font-size="6.8" text-anchor="end" fill="#333" >20</text>
<line x1="281.5" y1="643.64" x2="284.2" y2="643.64" stroke="#231f20" stroke-width="1" />
<text x="278.9" y="646.04" font-size="6.8" text-anchor="end" fill="#333" >40</text>
<line x1="281.5" y1="631.16" x2="284.2" y2="631.16" stroke="#231f20" stroke-width="1" />
<text x="278.9" y="633.56" font-size="6.8" text-anchor="end" fill="#333" >60</text>
<line x1="281.5" y1="618.68" x2="284.2" y2="618.68" stroke="#231f20" stroke-width="1" />
<text x="278.9" y="621.08" font-size="6.8" text-anchor="end" fill="#333" >80</text>
<line x1="281.5" y1="606.2" x2="284.2" y2="606.2" stroke="#231f20" stroke-width="1" />
<text x="278.9" y="608.6" font-size="6.8" text-anchor="end" fill="#333" >100</text>
<text x="324.6" y="598.4" font-size="6.8" font-weight="bold" textLength="15" lengthAdjust="spacingAndGlyphs" >CD8<tspan font-size="4.4" dy="-2.6">+</tspan></text>
<line x1="297.6" y1="602.3" x2="367.3" y2="602.3" stroke="#231f20" stroke-width="1.3" />
<line x1="317.7" y1="618.5" x2="362.7" y2="618.5" stroke="#231f20" stroke-width="1.3" />
<text x="327.4" y="615" font-size="6.4" fill="#333" textLength="24.9" lengthAdjust="spacingAndGlyphs"><tspan font-style="italic">P</tspan> &lt; 0.05</text>
<line x1="339.2" y1="630" x2="372.4" y2="630" stroke="#231f20" stroke-width="1.3" />
<text x="343.1" y="626.5" font-size="6.4" fill="#333" textLength="24.9" lengthAdjust="spacingAndGlyphs"><tspan font-style="italic">P</tspan> &lt; 0.05</text>
<line x1="288.2" y1="641.1" x2="322.3" y2="641.1" stroke="#231f20" stroke-width="1.3" />
<text x="293" y="637.6" font-size="6.4" fill="#333" textLength="24.7" lengthAdjust="spacingAndGlyphs"><tspan font-style="italic">P</tspan> &lt; 0.05</text>
<rect x="313.5" y="657.2" width="13.9" height="11.4" fill="#6cb244" />
<rect x="358.8" y="642.7" width="13.6" height="25.9" fill="#cd0680" />
<rect x="291.65" y="665.95" width="3.1" height="3.1" fill="#fff" stroke="#111" stroke-width="0.8" />
<rect x="295.45" y="666.25" width="3.1" height="3.1" fill="#fff" stroke="#111" stroke-width="0.8" />
<rect x="298.95" y="665.95" width="3.1" height="3.1" fill="#fff" stroke="#111" stroke-width="0.8" />
<rect x="301.95" y="665.45" width="3.1" height="3.1" fill="#fff" stroke="#111" stroke-width="0.8" />
<line x1="320.5" y1="651" x2="320.5" y2="662" stroke="#231f20" stroke-width="0.9" />
<line x1="318.5" y1="651" x2="322.5" y2="651" stroke="#231f20" stroke-width="0.9" />
<line x1="318.5" y1="662" x2="322.5" y2="662" stroke="#231f20" stroke-width="0.9" />
<rect x="316.2" y="645.4" width="3" height="3" fill="#6cb244" stroke="#2a3a20" stroke-width="0.8" />
<rect x="321.3" y="644.7" width="3" height="3" fill="#6cb244" stroke="#2a3a20" stroke-width="0.8" />
<rect x="319" y="657.3" width="3" height="3" fill="#6cb244" stroke="#2a3a20" stroke-width="0.8" />
<rect x="322" y="659.2" width="3" height="3" fill="#6cb244" stroke="#2a3a20" stroke-width="0.8" />
<rect x="319" y="664.3" width="3" height="3" fill="#6cb244" stroke="#2a3a20" stroke-width="0.8" />
<path d="M336.65,664.84 L340.35,664.84 L338.5,668.16 Z" fill="#fff" stroke="#111" stroke-width="0.7" />
<path d="M339.65,665.84 L343.35,665.84 L341.5,669.16 Z" fill="#fff" stroke="#111" stroke-width="0.7" />
<path d="M343.15,666.13 L346.85,666.13 L345,669.46 Z" fill="#fff" stroke="#111" stroke-width="0.7" />
<path d="M346.15,665.54 L349.85,665.54 L348,668.87 Z" fill="#fff" stroke="#111" stroke-width="0.7" />
<line x1="365.5" y1="640.5" x2="365.5" y2="645" stroke="#231f20" stroke-width="0.9" />
<line x1="363.5" y1="640.5" x2="367.5" y2="640.5" stroke="#231f20" stroke-width="0.9" />
<line x1="363.5" y1="645" x2="367.5" y2="645" stroke="#231f20" stroke-width="0.9" />
<path d="M363.85,632.94 L367.55,632.94 L365.7,636.26 Z" fill="#2a1a22" stroke="#1a1015" stroke-width="0.7" />
<path d="M359.65,639.84 L363.35,639.84 L361.5,643.16 Z" fill="#2a1a22" stroke="#1a1015" stroke-width="0.7" />
<path d="M362.65,639.54 L366.35,639.54 L364.5,642.87 Z" fill="#2a1a22" stroke="#1a1015" stroke-width="0.7" />
<path d="M365.65,639.84 L369.35,639.84 L367.5,643.16 Z" fill="#2a1a22" stroke="#1a1015" stroke-width="0.7" />
<path d="M368.65,639.54 L372.35,639.54 L370.5,642.87 Z" fill="#2a1a22" stroke="#1a1015" stroke-width="0.7" />
<path d="M361.15,642.84 L364.85,642.84 L363,646.16 Z" fill="#2a1a22" stroke="#1a1015" stroke-width="0.7" />
<text x="393" y="569.3" font-size="12.8" stroke="#000" stroke-width="0.45" fill="#000">I</text>
<rect x="446.85" y="575.65" width="3.3" height="3.3" fill="#6cb244" stroke="#2a3a20" stroke-width="0.9" />
<text x="453.5" y="579.8" font-size="7.2" textLength="28.4" lengthAdjust="spacingAndGlyphs" fill="#333" >WT DAY 7</text>
<path d="M446.55,587.54 L450.45,587.54 L448.5,591.05 Z" fill="#111" stroke="#111" stroke-width="0.7" />
<text x="453.5" y="591.8" font-size="7.2" textLength="35.4" lengthAdjust="spacingAndGlyphs" fill="#333" >PD1<tspan font-size="4.2" dy="-2.8">-/-</tspan><tspan dy="2.8"> DAY 7</tspan></text>
<line x1="433.7" y1="608.3" x2="433.7" y2="669.45" stroke="#231f20" stroke-width="1.5" />
<line x1="431.1" y1="611" x2="433.7" y2="611" stroke="#231f20" stroke-width="1" />
<text x="426.9" y="613.38" font-size="6.6" text-anchor="middle" fill="#333" >4</text>
<line x1="431.1" y1="625.4" x2="433.7" y2="625.4" stroke="#231f20" stroke-width="1" />
<text x="426.9" y="627.78" font-size="6.6" text-anchor="middle" fill="#333" >3</text>
<line x1="431.1" y1="639.8" x2="433.7" y2="639.8" stroke="#231f20" stroke-width="1" />
<text x="426.9" y="642.18" font-size="6.6" text-anchor="middle" fill="#333" >2</text>
<line x1="431.1" y1="654.3" x2="433.7" y2="654.3" stroke="#231f20" stroke-width="1" />
<text x="426.9" y="656.68" font-size="6.6" text-anchor="middle" fill="#333" >1</text>
<line x1="431.1" y1="668.7" x2="433.7" y2="668.7" stroke="#231f20" stroke-width="1" />
<text x="426.9" y="671.08" font-size="6.6" text-anchor="middle" fill="#333" >0</text>
<line x1="432.4" y1="621.07" x2="433.7" y2="621.07" stroke="#231f20" stroke-width="0.6" />
<line x1="432.4" y1="618.53" x2="433.7" y2="618.53" stroke="#231f20" stroke-width="0.6" />
<line x1="432.4" y1="616.73" x2="433.7" y2="616.73" stroke="#231f20" stroke-width="0.6" />
<line x1="432.4" y1="615.33" x2="433.7" y2="615.33" stroke="#231f20" stroke-width="0.6" />
<line x1="432.4" y1="614.19" x2="433.7" y2="614.19" stroke="#231f20" stroke-width="0.6" />
<line x1="432.4" y1="613.23" x2="433.7" y2="613.23" stroke="#231f20" stroke-width="0.6" />
<line x1="432.4" y1="612.4" x2="433.7" y2="612.4" stroke="#231f20" stroke-width="0.6" />
<line x1="432.4" y1="611.66" x2="433.7" y2="611.66" stroke="#231f20" stroke-width="0.6" />
<line x1="432.4" y1="635.47" x2="433.7" y2="635.47" stroke="#231f20" stroke-width="0.6" />
<line x1="432.4" y1="632.93" x2="433.7" y2="632.93" stroke="#231f20" stroke-width="0.6" />
<line x1="432.4" y1="631.13" x2="433.7" y2="631.13" stroke="#231f20" stroke-width="0.6" />
<line x1="432.4" y1="629.73" x2="433.7" y2="629.73" stroke="#231f20" stroke-width="0.6" />
<line x1="432.4" y1="628.59" x2="433.7" y2="628.59" stroke="#231f20" stroke-width="0.6" />
<line x1="432.4" y1="627.63" x2="433.7" y2="627.63" stroke="#231f20" stroke-width="0.6" />
<line x1="432.4" y1="626.8" x2="433.7" y2="626.8" stroke="#231f20" stroke-width="0.6" />
<line x1="432.4" y1="626.06" x2="433.7" y2="626.06" stroke="#231f20" stroke-width="0.6" />
<line x1="432.4" y1="649.94" x2="433.7" y2="649.94" stroke="#231f20" stroke-width="0.6" />
<line x1="432.4" y1="647.38" x2="433.7" y2="647.38" stroke="#231f20" stroke-width="0.6" />
<line x1="432.4" y1="645.57" x2="433.7" y2="645.57" stroke="#231f20" stroke-width="0.6" />
<line x1="432.4" y1="644.16" x2="433.7" y2="644.16" stroke="#231f20" stroke-width="0.6" />
<line x1="432.4" y1="643.02" x2="433.7" y2="643.02" stroke="#231f20" stroke-width="0.6" />
<line x1="432.4" y1="642.05" x2="433.7" y2="642.05" stroke="#231f20" stroke-width="0.6" />
<line x1="432.4" y1="641.21" x2="433.7" y2="641.21" stroke="#231f20" stroke-width="0.6" />
<line x1="432.4" y1="640.46" x2="433.7" y2="640.46" stroke="#231f20" stroke-width="0.6" />
<line x1="432.4" y1="664.37" x2="433.7" y2="664.37" stroke="#231f20" stroke-width="0.6" />
<line x1="432.4" y1="661.83" x2="433.7" y2="661.83" stroke="#231f20" stroke-width="0.6" />
<line x1="432.4" y1="660.03" x2="433.7" y2="660.03" stroke="#231f20" stroke-width="0.6" />
<line x1="432.4" y1="658.63" x2="433.7" y2="658.63" stroke="#231f20" stroke-width="0.6" />
<line x1="432.4" y1="657.49" x2="433.7" y2="657.49" stroke="#231f20" stroke-width="0.6" />
<line x1="432.4" y1="656.53" x2="433.7" y2="656.53" stroke="#231f20" stroke-width="0.6" />
<line x1="432.4" y1="655.7" x2="433.7" y2="655.7" stroke="#231f20" stroke-width="0.6" />
<line x1="432.4" y1="654.96" x2="433.7" y2="654.96" stroke="#231f20" stroke-width="0.6" />
<line x1="459.5" y1="668.5" x2="459.5" y2="671" stroke="#231f20" stroke-width="1" />
<line x1="496.9" y1="668.5" x2="496.9" y2="671" stroke="#231f20" stroke-width="1" />
<text transform="translate(407.9,654) rotate(-90)" font-size="8.6" textLength="31.4" lengthAdjust="spacingAndGlyphs" >Absolute</text>
<text transform="translate(419.6,667.3) rotate(-90)" font-size="8.6" textLength="57.9" lengthAdjust="spacingAndGlyphs" >number (LOG<tspan font-size="5.4" dy="1.6">10</tspan><tspan dy="-1.6">)</tspan></text>
<rect x="447.25" y="611.45" width="3.3" height="3.3" fill="#6cb244" stroke="#2a3a20" stroke-width="0.8" />
<rect x="465.75" y="609.55" width="3.3" height="3.3" fill="#6cb244" stroke="#2a3a20" stroke-width="0.8" />
<rect x="452.55" y="614.15" width="3.3" height="3.3" fill="#6cb244" stroke="#2a3a20" stroke-width="0.8" />
<rect x="460.15" y="614.15" width="3.3" height="3.3" fill="#6cb244" stroke="#2a3a20" stroke-width="0.8" />
<rect x="455.55" y="618.85" width="3.3" height="3.3" fill="#6cb244" stroke="#2a3a20" stroke-width="0.8" />
<rect x="460.65" y="620.65" width="3.3" height="3.3" fill="#6cb244" stroke="#2a3a20" stroke-width="0.8" />
<rect x="457.85" y="631.05" width="3.3" height="3.3" fill="#6cb244" stroke="#2a3a20" stroke-width="0.8" />
<rect x="454.85" y="640.95" width="3.3" height="3.3" fill="#6cb244" stroke="#2a3a20" stroke-width="0.8" />
<rect x="460.15" y="644.85" width="3.3" height="3.3" fill="#6cb244" stroke="#2a3a20" stroke-width="0.8" />
<rect x="457.85" y="650.25" width="3.3" height="3.3" fill="#6cb244" stroke="#2a3a20" stroke-width="0.8" />
<line x1="447.3" y1="618.8" x2="471.5" y2="618.8" stroke="#231f20" stroke-width="1.3" />
<line x1="465.1" y1="631.5" x2="509.6" y2="631.5" stroke="#231f20" stroke-width="1.3" />
<text x="473.4" y="628.5" font-size="6.4" fill="#333" textLength="28.1" lengthAdjust="spacingAndGlyphs"><tspan font-style="italic">P</tspan> &lt; 0.001</text>
<path d="M491.55,641.75 L495.45,641.75 L493.5,645.25 Z" fill="#2a1a22" stroke="#1a1015" stroke-width="0.7" />
<path d="M497.75,644.14 L501.65,644.14 L499.7,647.65 Z" fill="#2a1a22" stroke="#1a1015" stroke-width="0.7" />
<path d="M493.05,651.25 L496.95,651.25 L495,654.75 Z" fill="#2a1a22" stroke="#1a1015" stroke-width="0.7" />
<path d="M496.55,651.75 L500.45,651.75 L498.5,655.25 Z" fill="#2a1a22" stroke="#1a1015" stroke-width="0.7" />
<path d="M500.05,651.25 L503.95,651.25 L502,654.75 Z" fill="#2a1a22" stroke="#1a1015" stroke-width="0.7" />
<path d="M490.55,655.75 L494.45,655.75 L492.5,659.25 Z" fill="#2a1a22" stroke="#1a1015" stroke-width="0.7" />
<path d="M494.05,656.25 L497.95,656.25 L496,659.75 Z" fill="#2a1a22" stroke="#1a1015" stroke-width="0.7" />
<path d="M498.55,655.75 L502.45,655.75 L500.5,659.25 Z" fill="#2a1a22" stroke="#1a1015" stroke-width="0.7" />
<path d="M494.95,665.54 L498.85,665.54 L496.9,669.05 Z" fill="#2a1a22" stroke="#1a1015" stroke-width="0.7" />
<line x1="484.2" y1="654.6" x2="502.7" y2="654.6" stroke="#231f20" stroke-width="1.3" />
<line x1="238.45" y1="96.9" x2="329" y2="96.9" stroke="#231f20" stroke-width="1.5"/>
<line x1="52.9" y1="234" x2="127" y2="234" stroke="#231f20" stroke-width="1.5"/>
<line x1="141.65" y1="234" x2="215.8" y2="234" stroke="#231f20" stroke-width="1.5"/>
<line x1="123.05" y1="377.4" x2="193.7" y2="377.4" stroke="#231f20" stroke-width="1.5"/>
<line x1="327.35" y1="379.9" x2="398.5" y2="379.9" stroke="#231f20" stroke-width="1.5"/>
<line x1="49.9" y1="668.8" x2="146.5" y2="668.8" stroke="#231f20" stroke-width="1.5"/>
<line x1="166.2" y1="668.8" x2="263.5" y2="668.8" stroke="#231f20" stroke-width="1.5"/>
<line x1="283.5" y1="668.6" x2="375.4" y2="668.6" stroke="#231f20" stroke-width="1.5"/>
<line x1="432.75" y1="668.5" x2="511.9" y2="668.5" stroke="#231f20" stroke-width="1.5"/>
</svg>
<svg class="bd" width="520" height="680" viewBox="0 0 520 680"><rect x="0" y="0" width="520" height="1.5" fill="#000"/><rect x="0" y="0" width="1.7" height="680" fill="#000"/><rect x="518.6" y="0" width="1.4" height="680" fill="#000"/><rect x="0" y="678.5" width="520" height="1.5" fill="#000"/></svg>
</body></html>
